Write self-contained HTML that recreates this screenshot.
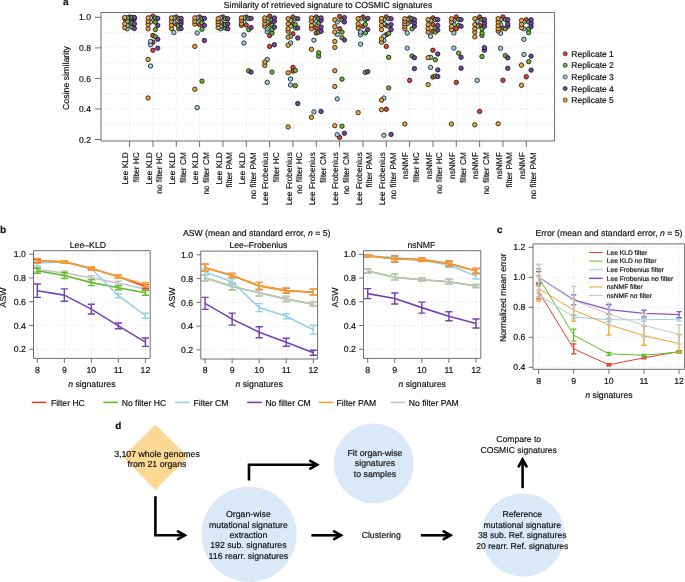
<!DOCTYPE html>
<html><head><meta charset="utf-8"><style>
html,body{margin:0;padding:0;background:#fff;}
body{width:685px;height:582px;overflow:hidden;}
svg{display:block;font-family:"Liberation Sans", sans-serif;fill:#1a1a1a;will-change:transform;}
text{fill:#111;stroke:#111;stroke-width:0.18px;text-rendering:geometricPrecision;}
</style></head><body>
<svg width="685" height="582" viewBox="0 0 685 582">
<line x1="101.0" y1="17.30" x2="554.6" y2="17.30" stroke="#d4d4d4" stroke-width="0.75" stroke-dasharray="1 2.2"/>
<line x1="101.0" y1="32.58" x2="554.6" y2="32.58" stroke="#d4d4d4" stroke-width="0.75" stroke-dasharray="1 2.2"/>
<line x1="101.0" y1="47.86" x2="554.6" y2="47.86" stroke="#d4d4d4" stroke-width="0.75" stroke-dasharray="1 2.2"/>
<line x1="101.0" y1="63.14" x2="554.6" y2="63.14" stroke="#d4d4d4" stroke-width="0.75" stroke-dasharray="1 2.2"/>
<line x1="101.0" y1="78.42" x2="554.6" y2="78.42" stroke="#d4d4d4" stroke-width="0.75" stroke-dasharray="1 2.2"/>
<line x1="101.0" y1="93.70" x2="554.6" y2="93.70" stroke="#d4d4d4" stroke-width="0.75" stroke-dasharray="1 2.2"/>
<line x1="101.0" y1="108.98" x2="554.6" y2="108.98" stroke="#d4d4d4" stroke-width="0.75" stroke-dasharray="1 2.2"/>
<line x1="101.0" y1="124.26" x2="554.6" y2="124.26" stroke="#d4d4d4" stroke-width="0.75" stroke-dasharray="1 2.2"/>
<line x1="101.0" y1="139.54" x2="554.6" y2="139.54" stroke="#d4d4d4" stroke-width="0.75" stroke-dasharray="1 2.2"/>
<line x1="129.60" y1="12.5" x2="129.60" y2="141.0" stroke="#d4d4d4" stroke-width="0.75" stroke-dasharray="1 2.2"/>
<line x1="152.94" y1="12.5" x2="152.94" y2="141.0" stroke="#d4d4d4" stroke-width="0.75" stroke-dasharray="1 2.2"/>
<line x1="176.27" y1="12.5" x2="176.27" y2="141.0" stroke="#d4d4d4" stroke-width="0.75" stroke-dasharray="1 2.2"/>
<line x1="199.60" y1="12.5" x2="199.60" y2="141.0" stroke="#d4d4d4" stroke-width="0.75" stroke-dasharray="1 2.2"/>
<line x1="222.94" y1="12.5" x2="222.94" y2="141.0" stroke="#d4d4d4" stroke-width="0.75" stroke-dasharray="1 2.2"/>
<line x1="246.28" y1="12.5" x2="246.28" y2="141.0" stroke="#d4d4d4" stroke-width="0.75" stroke-dasharray="1 2.2"/>
<line x1="269.61" y1="12.5" x2="269.61" y2="141.0" stroke="#d4d4d4" stroke-width="0.75" stroke-dasharray="1 2.2"/>
<line x1="292.94" y1="12.5" x2="292.94" y2="141.0" stroke="#d4d4d4" stroke-width="0.75" stroke-dasharray="1 2.2"/>
<line x1="316.28" y1="12.5" x2="316.28" y2="141.0" stroke="#d4d4d4" stroke-width="0.75" stroke-dasharray="1 2.2"/>
<line x1="339.62" y1="12.5" x2="339.62" y2="141.0" stroke="#d4d4d4" stroke-width="0.75" stroke-dasharray="1 2.2"/>
<line x1="362.95" y1="12.5" x2="362.95" y2="141.0" stroke="#d4d4d4" stroke-width="0.75" stroke-dasharray="1 2.2"/>
<line x1="386.28" y1="12.5" x2="386.28" y2="141.0" stroke="#d4d4d4" stroke-width="0.75" stroke-dasharray="1 2.2"/>
<line x1="409.62" y1="12.5" x2="409.62" y2="141.0" stroke="#d4d4d4" stroke-width="0.75" stroke-dasharray="1 2.2"/>
<line x1="432.96" y1="12.5" x2="432.96" y2="141.0" stroke="#d4d4d4" stroke-width="0.75" stroke-dasharray="1 2.2"/>
<line x1="456.29" y1="12.5" x2="456.29" y2="141.0" stroke="#d4d4d4" stroke-width="0.75" stroke-dasharray="1 2.2"/>
<line x1="479.62" y1="12.5" x2="479.62" y2="141.0" stroke="#d4d4d4" stroke-width="0.75" stroke-dasharray="1 2.2"/>
<line x1="502.96" y1="12.5" x2="502.96" y2="141.0" stroke="#d4d4d4" stroke-width="0.75" stroke-dasharray="1 2.2"/>
<line x1="526.29" y1="12.5" x2="526.29" y2="141.0" stroke="#d4d4d4" stroke-width="0.75" stroke-dasharray="1 2.2"/>
<circle cx="129.60" cy="22.00" r="2.2" fill="#E5412B" stroke="#111" stroke-width="0.8"/>
<circle cx="129.60" cy="17.00" r="2.2" fill="#E5412B" stroke="#111" stroke-width="0.8"/>
<circle cx="132.00" cy="27.10" r="2.2" fill="#62BD2A" stroke="#111" stroke-width="0.8"/>
<circle cx="132.00" cy="22.90" r="2.2" fill="#62BD2A" stroke="#111" stroke-width="0.8"/>
<circle cx="132.00" cy="18.70" r="2.2" fill="#62BD2A" stroke="#111" stroke-width="0.8"/>
<circle cx="132.00" cy="17.50" r="2.2" fill="#62BD2A" stroke="#111" stroke-width="0.8"/>
<circle cx="127.20" cy="28.80" r="2.2" fill="#96D1E8" stroke="#111" stroke-width="0.8"/>
<circle cx="127.20" cy="25.40" r="2.2" fill="#96D1E8" stroke="#111" stroke-width="0.8"/>
<circle cx="127.20" cy="21.20" r="2.2" fill="#96D1E8" stroke="#111" stroke-width="0.8"/>
<circle cx="127.20" cy="17.90" r="2.2" fill="#96D1E8" stroke="#111" stroke-width="0.8"/>
<circle cx="134.40" cy="28.50" r="2.2" fill="#7442B2" stroke="#111" stroke-width="0.8"/>
<circle cx="134.40" cy="23.80" r="2.2" fill="#7442B2" stroke="#111" stroke-width="0.8"/>
<circle cx="134.40" cy="18.70" r="2.2" fill="#7442B2" stroke="#111" stroke-width="0.8"/>
<circle cx="134.40" cy="17.50" r="2.2" fill="#7442B2" stroke="#111" stroke-width="0.8"/>
<circle cx="124.80" cy="27.60" r="2.2" fill="#F4A12E" stroke="#111" stroke-width="0.8"/>
<circle cx="124.80" cy="23.80" r="2.2" fill="#F4A12E" stroke="#111" stroke-width="0.8"/>
<circle cx="124.80" cy="18.70" r="2.2" fill="#F4A12E" stroke="#111" stroke-width="0.8"/>
<circle cx="124.80" cy="17.50" r="2.2" fill="#F4A12E" stroke="#111" stroke-width="0.8"/>
<circle cx="152.94" cy="50.30" r="2.2" fill="#E5412B" stroke="#111" stroke-width="0.8"/>
<circle cx="152.94" cy="42.20" r="2.2" fill="#E5412B" stroke="#111" stroke-width="0.8"/>
<circle cx="152.94" cy="35.50" r="2.2" fill="#E5412B" stroke="#111" stroke-width="0.8"/>
<circle cx="152.94" cy="16.20" r="2.2" fill="#E5412B" stroke="#111" stroke-width="0.8"/>
<circle cx="155.34" cy="36.80" r="2.2" fill="#62BD2A" stroke="#111" stroke-width="0.8"/>
<circle cx="155.34" cy="29.60" r="2.2" fill="#62BD2A" stroke="#111" stroke-width="0.8"/>
<circle cx="155.34" cy="22.00" r="2.2" fill="#62BD2A" stroke="#111" stroke-width="0.8"/>
<circle cx="155.34" cy="17.90" r="2.2" fill="#62BD2A" stroke="#111" stroke-width="0.8"/>
<circle cx="150.53" cy="66.00" r="2.2" fill="#96D1E8" stroke="#111" stroke-width="0.8"/>
<circle cx="150.53" cy="44.70" r="2.2" fill="#96D1E8" stroke="#111" stroke-width="0.8"/>
<circle cx="150.53" cy="41.40" r="2.2" fill="#96D1E8" stroke="#111" stroke-width="0.8"/>
<circle cx="150.53" cy="22.00" r="2.2" fill="#96D1E8" stroke="#111" stroke-width="0.8"/>
<circle cx="150.53" cy="17.90" r="2.2" fill="#96D1E8" stroke="#111" stroke-width="0.8"/>
<circle cx="157.74" cy="48.10" r="2.2" fill="#7442B2" stroke="#111" stroke-width="0.8"/>
<circle cx="157.74" cy="39.20" r="2.2" fill="#7442B2" stroke="#111" stroke-width="0.8"/>
<circle cx="157.74" cy="25.40" r="2.2" fill="#7442B2" stroke="#111" stroke-width="0.8"/>
<circle cx="157.74" cy="18.40" r="2.2" fill="#7442B2" stroke="#111" stroke-width="0.8"/>
<circle cx="148.13" cy="98.00" r="2.2" fill="#F4A12E" stroke="#111" stroke-width="0.8"/>
<circle cx="148.13" cy="59.50" r="2.2" fill="#F4A12E" stroke="#111" stroke-width="0.8"/>
<circle cx="148.13" cy="28.80" r="2.2" fill="#F4A12E" stroke="#111" stroke-width="0.8"/>
<circle cx="148.13" cy="24.60" r="2.2" fill="#F4A12E" stroke="#111" stroke-width="0.8"/>
<circle cx="148.13" cy="21.20" r="2.2" fill="#F4A12E" stroke="#111" stroke-width="0.8"/>
<circle cx="148.13" cy="17.90" r="2.2" fill="#F4A12E" stroke="#111" stroke-width="0.8"/>
<circle cx="176.27" cy="24.10" r="2.2" fill="#E5412B" stroke="#111" stroke-width="0.8"/>
<circle cx="176.27" cy="17.00" r="2.2" fill="#E5412B" stroke="#111" stroke-width="0.8"/>
<circle cx="178.67" cy="28.80" r="2.2" fill="#62BD2A" stroke="#111" stroke-width="0.8"/>
<circle cx="178.67" cy="25.40" r="2.2" fill="#62BD2A" stroke="#111" stroke-width="0.8"/>
<circle cx="178.67" cy="18.70" r="2.2" fill="#62BD2A" stroke="#111" stroke-width="0.8"/>
<circle cx="173.87" cy="32.50" r="2.2" fill="#96D1E8" stroke="#111" stroke-width="0.8"/>
<circle cx="173.87" cy="22.00" r="2.2" fill="#96D1E8" stroke="#111" stroke-width="0.8"/>
<circle cx="173.87" cy="17.90" r="2.2" fill="#96D1E8" stroke="#111" stroke-width="0.8"/>
<circle cx="181.07" cy="28.50" r="2.2" fill="#7442B2" stroke="#111" stroke-width="0.8"/>
<circle cx="181.07" cy="23.80" r="2.2" fill="#7442B2" stroke="#111" stroke-width="0.8"/>
<circle cx="181.07" cy="21.10" r="2.2" fill="#7442B2" stroke="#111" stroke-width="0.8"/>
<circle cx="181.07" cy="18.40" r="2.2" fill="#7442B2" stroke="#111" stroke-width="0.8"/>
<circle cx="171.47" cy="28.50" r="2.2" fill="#F4A12E" stroke="#111" stroke-width="0.8"/>
<circle cx="171.47" cy="25.10" r="2.2" fill="#F4A12E" stroke="#111" stroke-width="0.8"/>
<circle cx="171.47" cy="21.20" r="2.2" fill="#F4A12E" stroke="#111" stroke-width="0.8"/>
<circle cx="171.47" cy="17.90" r="2.2" fill="#F4A12E" stroke="#111" stroke-width="0.8"/>
<circle cx="199.60" cy="24.60" r="2.2" fill="#E5412B" stroke="#111" stroke-width="0.8"/>
<circle cx="199.60" cy="17.00" r="2.2" fill="#E5412B" stroke="#111" stroke-width="0.8"/>
<circle cx="202.00" cy="81.20" r="2.2" fill="#62BD2A" stroke="#111" stroke-width="0.8"/>
<circle cx="202.00" cy="29.30" r="2.2" fill="#62BD2A" stroke="#111" stroke-width="0.8"/>
<circle cx="202.00" cy="22.90" r="2.2" fill="#62BD2A" stroke="#111" stroke-width="0.8"/>
<circle cx="202.00" cy="18.70" r="2.2" fill="#62BD2A" stroke="#111" stroke-width="0.8"/>
<circle cx="197.20" cy="107.60" r="2.2" fill="#96D1E8" stroke="#111" stroke-width="0.8"/>
<circle cx="197.20" cy="33.00" r="2.2" fill="#96D1E8" stroke="#111" stroke-width="0.8"/>
<circle cx="197.20" cy="22.00" r="2.2" fill="#96D1E8" stroke="#111" stroke-width="0.8"/>
<circle cx="197.20" cy="17.90" r="2.2" fill="#96D1E8" stroke="#111" stroke-width="0.8"/>
<circle cx="204.41" cy="40.50" r="2.2" fill="#7442B2" stroke="#111" stroke-width="0.8"/>
<circle cx="204.41" cy="25.40" r="2.2" fill="#7442B2" stroke="#111" stroke-width="0.8"/>
<circle cx="204.41" cy="18.40" r="2.2" fill="#7442B2" stroke="#111" stroke-width="0.8"/>
<circle cx="194.80" cy="89.30" r="2.2" fill="#F4A12E" stroke="#111" stroke-width="0.8"/>
<circle cx="194.80" cy="46.40" r="2.2" fill="#F4A12E" stroke="#111" stroke-width="0.8"/>
<circle cx="194.80" cy="24.10" r="2.2" fill="#F4A12E" stroke="#111" stroke-width="0.8"/>
<circle cx="194.80" cy="21.20" r="2.2" fill="#F4A12E" stroke="#111" stroke-width="0.8"/>
<circle cx="194.80" cy="17.90" r="2.2" fill="#F4A12E" stroke="#111" stroke-width="0.8"/>
<circle cx="222.94" cy="23.80" r="2.2" fill="#E5412B" stroke="#111" stroke-width="0.8"/>
<circle cx="222.94" cy="17.00" r="2.2" fill="#E5412B" stroke="#111" stroke-width="0.8"/>
<circle cx="225.34" cy="28.00" r="2.2" fill="#62BD2A" stroke="#111" stroke-width="0.8"/>
<circle cx="225.34" cy="24.60" r="2.2" fill="#62BD2A" stroke="#111" stroke-width="0.8"/>
<circle cx="225.34" cy="18.70" r="2.2" fill="#62BD2A" stroke="#111" stroke-width="0.8"/>
<circle cx="220.54" cy="28.80" r="2.2" fill="#96D1E8" stroke="#111" stroke-width="0.8"/>
<circle cx="220.54" cy="26.30" r="2.2" fill="#96D1E8" stroke="#111" stroke-width="0.8"/>
<circle cx="220.54" cy="22.00" r="2.2" fill="#96D1E8" stroke="#111" stroke-width="0.8"/>
<circle cx="220.54" cy="17.90" r="2.2" fill="#96D1E8" stroke="#111" stroke-width="0.8"/>
<circle cx="227.74" cy="28.80" r="2.2" fill="#7442B2" stroke="#111" stroke-width="0.8"/>
<circle cx="227.74" cy="23.80" r="2.2" fill="#7442B2" stroke="#111" stroke-width="0.8"/>
<circle cx="227.74" cy="18.70" r="2.2" fill="#7442B2" stroke="#111" stroke-width="0.8"/>
<circle cx="218.14" cy="27.60" r="2.2" fill="#F4A12E" stroke="#111" stroke-width="0.8"/>
<circle cx="218.14" cy="24.10" r="2.2" fill="#F4A12E" stroke="#111" stroke-width="0.8"/>
<circle cx="218.14" cy="21.40" r="2.2" fill="#F4A12E" stroke="#111" stroke-width="0.8"/>
<circle cx="218.14" cy="18.70" r="2.2" fill="#F4A12E" stroke="#111" stroke-width="0.8"/>
<circle cx="246.28" cy="25.10" r="2.2" fill="#E5412B" stroke="#111" stroke-width="0.8"/>
<circle cx="246.28" cy="17.00" r="2.2" fill="#E5412B" stroke="#111" stroke-width="0.8"/>
<circle cx="248.68" cy="70.80" r="2.2" fill="#62BD2A" stroke="#111" stroke-width="0.8"/>
<circle cx="248.68" cy="29.60" r="2.2" fill="#62BD2A" stroke="#111" stroke-width="0.8"/>
<circle cx="248.68" cy="18.70" r="2.2" fill="#62BD2A" stroke="#111" stroke-width="0.8"/>
<circle cx="243.88" cy="43.00" r="2.2" fill="#96D1E8" stroke="#111" stroke-width="0.8"/>
<circle cx="243.88" cy="35.00" r="2.2" fill="#96D1E8" stroke="#111" stroke-width="0.8"/>
<circle cx="243.88" cy="22.00" r="2.2" fill="#96D1E8" stroke="#111" stroke-width="0.8"/>
<circle cx="243.88" cy="17.90" r="2.2" fill="#96D1E8" stroke="#111" stroke-width="0.8"/>
<circle cx="251.08" cy="72.10" r="2.2" fill="#7442B2" stroke="#111" stroke-width="0.8"/>
<circle cx="251.08" cy="27.60" r="2.2" fill="#7442B2" stroke="#111" stroke-width="0.8"/>
<circle cx="251.08" cy="18.40" r="2.2" fill="#7442B2" stroke="#111" stroke-width="0.8"/>
<circle cx="241.47" cy="25.40" r="2.2" fill="#F4A12E" stroke="#111" stroke-width="0.8"/>
<circle cx="241.47" cy="23.80" r="2.2" fill="#F4A12E" stroke="#111" stroke-width="0.8"/>
<circle cx="241.47" cy="20.40" r="2.2" fill="#F4A12E" stroke="#111" stroke-width="0.8"/>
<circle cx="241.47" cy="17.90" r="2.2" fill="#F4A12E" stroke="#111" stroke-width="0.8"/>
<circle cx="269.61" cy="46.40" r="2.2" fill="#E5412B" stroke="#111" stroke-width="0.8"/>
<circle cx="269.61" cy="35.50" r="2.2" fill="#E5412B" stroke="#111" stroke-width="0.8"/>
<circle cx="269.61" cy="23.80" r="2.2" fill="#E5412B" stroke="#111" stroke-width="0.8"/>
<circle cx="269.61" cy="16.20" r="2.2" fill="#E5412B" stroke="#111" stroke-width="0.8"/>
<circle cx="272.01" cy="72.10" r="2.2" fill="#62BD2A" stroke="#111" stroke-width="0.8"/>
<circle cx="272.01" cy="33.00" r="2.2" fill="#62BD2A" stroke="#111" stroke-width="0.8"/>
<circle cx="272.01" cy="29.60" r="2.2" fill="#62BD2A" stroke="#111" stroke-width="0.8"/>
<circle cx="272.01" cy="25.40" r="2.2" fill="#62BD2A" stroke="#111" stroke-width="0.8"/>
<circle cx="272.01" cy="19.60" r="2.2" fill="#62BD2A" stroke="#111" stroke-width="0.8"/>
<circle cx="267.21" cy="82.40" r="2.2" fill="#96D1E8" stroke="#111" stroke-width="0.8"/>
<circle cx="267.21" cy="59.50" r="2.2" fill="#96D1E8" stroke="#111" stroke-width="0.8"/>
<circle cx="267.21" cy="31.80" r="2.2" fill="#96D1E8" stroke="#111" stroke-width="0.8"/>
<circle cx="267.21" cy="28.80" r="2.2" fill="#96D1E8" stroke="#111" stroke-width="0.8"/>
<circle cx="267.21" cy="22.00" r="2.2" fill="#96D1E8" stroke="#111" stroke-width="0.8"/>
<circle cx="267.21" cy="18.40" r="2.2" fill="#96D1E8" stroke="#111" stroke-width="0.8"/>
<circle cx="274.41" cy="44.70" r="2.2" fill="#7442B2" stroke="#111" stroke-width="0.8"/>
<circle cx="274.41" cy="27.10" r="2.2" fill="#7442B2" stroke="#111" stroke-width="0.8"/>
<circle cx="274.41" cy="21.20" r="2.2" fill="#7442B2" stroke="#111" stroke-width="0.8"/>
<circle cx="274.41" cy="17.90" r="2.2" fill="#7442B2" stroke="#111" stroke-width="0.8"/>
<circle cx="264.81" cy="65.40" r="2.2" fill="#F4A12E" stroke="#111" stroke-width="0.8"/>
<circle cx="264.81" cy="62.00" r="2.2" fill="#F4A12E" stroke="#111" stroke-width="0.8"/>
<circle cx="264.81" cy="26.30" r="2.2" fill="#F4A12E" stroke="#111" stroke-width="0.8"/>
<circle cx="264.81" cy="23.80" r="2.2" fill="#F4A12E" stroke="#111" stroke-width="0.8"/>
<circle cx="264.81" cy="20.40" r="2.2" fill="#F4A12E" stroke="#111" stroke-width="0.8"/>
<circle cx="264.81" cy="17.90" r="2.2" fill="#F4A12E" stroke="#111" stroke-width="0.8"/>
<circle cx="292.94" cy="71.10" r="2.2" fill="#E5412B" stroke="#111" stroke-width="0.8"/>
<circle cx="292.94" cy="67.40" r="2.2" fill="#E5412B" stroke="#111" stroke-width="0.8"/>
<circle cx="292.94" cy="33.80" r="2.2" fill="#E5412B" stroke="#111" stroke-width="0.8"/>
<circle cx="292.94" cy="23.80" r="2.2" fill="#E5412B" stroke="#111" stroke-width="0.8"/>
<circle cx="292.94" cy="17.00" r="2.2" fill="#E5412B" stroke="#111" stroke-width="0.8"/>
<circle cx="295.34" cy="85.70" r="2.2" fill="#62BD2A" stroke="#111" stroke-width="0.8"/>
<circle cx="295.34" cy="70.40" r="2.2" fill="#62BD2A" stroke="#111" stroke-width="0.8"/>
<circle cx="295.34" cy="28.00" r="2.2" fill="#62BD2A" stroke="#111" stroke-width="0.8"/>
<circle cx="295.34" cy="24.60" r="2.2" fill="#62BD2A" stroke="#111" stroke-width="0.8"/>
<circle cx="295.34" cy="18.70" r="2.2" fill="#62BD2A" stroke="#111" stroke-width="0.8"/>
<circle cx="290.55" cy="85.00" r="2.2" fill="#96D1E8" stroke="#111" stroke-width="0.8"/>
<circle cx="290.55" cy="79.00" r="2.2" fill="#96D1E8" stroke="#111" stroke-width="0.8"/>
<circle cx="290.55" cy="43.00" r="2.2" fill="#96D1E8" stroke="#111" stroke-width="0.8"/>
<circle cx="290.55" cy="36.30" r="2.2" fill="#96D1E8" stroke="#111" stroke-width="0.8"/>
<circle cx="290.55" cy="26.30" r="2.2" fill="#96D1E8" stroke="#111" stroke-width="0.8"/>
<circle cx="290.55" cy="20.40" r="2.2" fill="#96D1E8" stroke="#111" stroke-width="0.8"/>
<circle cx="297.75" cy="103.50" r="2.2" fill="#7442B2" stroke="#111" stroke-width="0.8"/>
<circle cx="297.75" cy="38.00" r="2.2" fill="#7442B2" stroke="#111" stroke-width="0.8"/>
<circle cx="297.75" cy="28.00" r="2.2" fill="#7442B2" stroke="#111" stroke-width="0.8"/>
<circle cx="297.75" cy="18.70" r="2.2" fill="#7442B2" stroke="#111" stroke-width="0.8"/>
<circle cx="288.14" cy="126.90" r="2.2" fill="#F4A12E" stroke="#111" stroke-width="0.8"/>
<circle cx="288.14" cy="72.80" r="2.2" fill="#F4A12E" stroke="#111" stroke-width="0.8"/>
<circle cx="288.14" cy="45.20" r="2.2" fill="#F4A12E" stroke="#111" stroke-width="0.8"/>
<circle cx="288.14" cy="37.20" r="2.2" fill="#F4A12E" stroke="#111" stroke-width="0.8"/>
<circle cx="288.14" cy="31.30" r="2.2" fill="#F4A12E" stroke="#111" stroke-width="0.8"/>
<circle cx="288.14" cy="28.80" r="2.2" fill="#F4A12E" stroke="#111" stroke-width="0.8"/>
<circle cx="288.14" cy="23.80" r="2.2" fill="#F4A12E" stroke="#111" stroke-width="0.8"/>
<circle cx="288.14" cy="18.70" r="2.2" fill="#F4A12E" stroke="#111" stroke-width="0.8"/>
<circle cx="316.28" cy="33.00" r="2.2" fill="#E5412B" stroke="#111" stroke-width="0.8"/>
<circle cx="316.28" cy="28.00" r="2.2" fill="#E5412B" stroke="#111" stroke-width="0.8"/>
<circle cx="316.28" cy="17.00" r="2.2" fill="#E5412B" stroke="#111" stroke-width="0.8"/>
<circle cx="318.68" cy="56.20" r="2.2" fill="#62BD2A" stroke="#111" stroke-width="0.8"/>
<circle cx="318.68" cy="52.80" r="2.2" fill="#62BD2A" stroke="#111" stroke-width="0.8"/>
<circle cx="318.68" cy="32.10" r="2.2" fill="#62BD2A" stroke="#111" stroke-width="0.8"/>
<circle cx="318.68" cy="22.90" r="2.2" fill="#62BD2A" stroke="#111" stroke-width="0.8"/>
<circle cx="318.68" cy="18.70" r="2.2" fill="#62BD2A" stroke="#111" stroke-width="0.8"/>
<circle cx="313.88" cy="111.90" r="2.2" fill="#96D1E8" stroke="#111" stroke-width="0.8"/>
<circle cx="313.88" cy="40.20" r="2.2" fill="#96D1E8" stroke="#111" stroke-width="0.8"/>
<circle cx="313.88" cy="23.80" r="2.2" fill="#96D1E8" stroke="#111" stroke-width="0.8"/>
<circle cx="313.88" cy="18.70" r="2.2" fill="#96D1E8" stroke="#111" stroke-width="0.8"/>
<circle cx="321.08" cy="111.40" r="2.2" fill="#7442B2" stroke="#111" stroke-width="0.8"/>
<circle cx="321.08" cy="31.30" r="2.2" fill="#7442B2" stroke="#111" stroke-width="0.8"/>
<circle cx="321.08" cy="27.10" r="2.2" fill="#7442B2" stroke="#111" stroke-width="0.8"/>
<circle cx="321.08" cy="20.40" r="2.2" fill="#7442B2" stroke="#111" stroke-width="0.8"/>
<circle cx="321.08" cy="17.90" r="2.2" fill="#7442B2" stroke="#111" stroke-width="0.8"/>
<circle cx="311.48" cy="117.30" r="2.2" fill="#F4A12E" stroke="#111" stroke-width="0.8"/>
<circle cx="311.48" cy="49.30" r="2.2" fill="#F4A12E" stroke="#111" stroke-width="0.8"/>
<circle cx="311.48" cy="28.80" r="2.2" fill="#F4A12E" stroke="#111" stroke-width="0.8"/>
<circle cx="311.48" cy="25.40" r="2.2" fill="#F4A12E" stroke="#111" stroke-width="0.8"/>
<circle cx="311.48" cy="21.20" r="2.2" fill="#F4A12E" stroke="#111" stroke-width="0.8"/>
<circle cx="311.48" cy="17.90" r="2.2" fill="#F4A12E" stroke="#111" stroke-width="0.8"/>
<circle cx="339.62" cy="137.40" r="2.2" fill="#E5412B" stroke="#111" stroke-width="0.8"/>
<circle cx="339.62" cy="28.80" r="2.2" fill="#E5412B" stroke="#111" stroke-width="0.8"/>
<circle cx="339.62" cy="16.50" r="2.2" fill="#E5412B" stroke="#111" stroke-width="0.8"/>
<circle cx="342.01" cy="126.20" r="2.2" fill="#62BD2A" stroke="#111" stroke-width="0.8"/>
<circle cx="342.01" cy="79.20" r="2.2" fill="#62BD2A" stroke="#111" stroke-width="0.8"/>
<circle cx="342.01" cy="37.70" r="2.2" fill="#62BD2A" stroke="#111" stroke-width="0.8"/>
<circle cx="342.01" cy="32.10" r="2.2" fill="#62BD2A" stroke="#111" stroke-width="0.8"/>
<circle cx="342.01" cy="19.80" r="2.2" fill="#62BD2A" stroke="#111" stroke-width="0.8"/>
<circle cx="337.22" cy="134.70" r="2.2" fill="#96D1E8" stroke="#111" stroke-width="0.8"/>
<circle cx="337.22" cy="98.90" r="2.2" fill="#96D1E8" stroke="#111" stroke-width="0.8"/>
<circle cx="337.22" cy="34.40" r="2.2" fill="#96D1E8" stroke="#111" stroke-width="0.8"/>
<circle cx="337.22" cy="22.00" r="2.2" fill="#96D1E8" stroke="#111" stroke-width="0.8"/>
<circle cx="344.42" cy="133.30" r="2.2" fill="#7442B2" stroke="#111" stroke-width="0.8"/>
<circle cx="344.42" cy="40.00" r="2.2" fill="#7442B2" stroke="#111" stroke-width="0.8"/>
<circle cx="344.42" cy="22.00" r="2.2" fill="#7442B2" stroke="#111" stroke-width="0.8"/>
<circle cx="344.42" cy="17.60" r="2.2" fill="#7442B2" stroke="#111" stroke-width="0.8"/>
<circle cx="334.81" cy="125.70" r="2.2" fill="#F4A12E" stroke="#111" stroke-width="0.8"/>
<circle cx="334.81" cy="86.50" r="2.2" fill="#F4A12E" stroke="#111" stroke-width="0.8"/>
<circle cx="334.81" cy="70.70" r="2.2" fill="#F4A12E" stroke="#111" stroke-width="0.8"/>
<circle cx="334.81" cy="47.40" r="2.2" fill="#F4A12E" stroke="#111" stroke-width="0.8"/>
<circle cx="334.81" cy="41.50" r="2.2" fill="#F4A12E" stroke="#111" stroke-width="0.8"/>
<circle cx="334.81" cy="32.10" r="2.2" fill="#F4A12E" stroke="#111" stroke-width="0.8"/>
<circle cx="334.81" cy="26.60" r="2.2" fill="#F4A12E" stroke="#111" stroke-width="0.8"/>
<circle cx="334.81" cy="19.80" r="2.2" fill="#F4A12E" stroke="#111" stroke-width="0.8"/>
<circle cx="362.95" cy="26.30" r="2.2" fill="#E5412B" stroke="#111" stroke-width="0.8"/>
<circle cx="362.95" cy="17.00" r="2.2" fill="#E5412B" stroke="#111" stroke-width="0.8"/>
<circle cx="365.35" cy="72.40" r="2.2" fill="#62BD2A" stroke="#111" stroke-width="0.8"/>
<circle cx="365.35" cy="33.00" r="2.2" fill="#62BD2A" stroke="#111" stroke-width="0.8"/>
<circle cx="365.35" cy="24.60" r="2.2" fill="#62BD2A" stroke="#111" stroke-width="0.8"/>
<circle cx="365.35" cy="19.60" r="2.2" fill="#62BD2A" stroke="#111" stroke-width="0.8"/>
<circle cx="360.55" cy="44.20" r="2.2" fill="#96D1E8" stroke="#111" stroke-width="0.8"/>
<circle cx="360.55" cy="34.70" r="2.2" fill="#96D1E8" stroke="#111" stroke-width="0.8"/>
<circle cx="360.55" cy="32.10" r="2.2" fill="#96D1E8" stroke="#111" stroke-width="0.8"/>
<circle cx="360.55" cy="18.70" r="2.2" fill="#96D1E8" stroke="#111" stroke-width="0.8"/>
<circle cx="367.75" cy="71.60" r="2.2" fill="#7442B2" stroke="#111" stroke-width="0.8"/>
<circle cx="367.75" cy="29.60" r="2.2" fill="#7442B2" stroke="#111" stroke-width="0.8"/>
<circle cx="367.75" cy="18.40" r="2.2" fill="#7442B2" stroke="#111" stroke-width="0.8"/>
<circle cx="358.15" cy="112.60" r="2.2" fill="#F4A12E" stroke="#111" stroke-width="0.8"/>
<circle cx="358.15" cy="28.00" r="2.2" fill="#F4A12E" stroke="#111" stroke-width="0.8"/>
<circle cx="358.15" cy="23.80" r="2.2" fill="#F4A12E" stroke="#111" stroke-width="0.8"/>
<circle cx="358.15" cy="18.70" r="2.2" fill="#F4A12E" stroke="#111" stroke-width="0.8"/>
<circle cx="386.28" cy="109.20" r="2.2" fill="#E5412B" stroke="#111" stroke-width="0.8"/>
<circle cx="386.28" cy="46.40" r="2.2" fill="#E5412B" stroke="#111" stroke-width="0.8"/>
<circle cx="386.28" cy="34.70" r="2.2" fill="#E5412B" stroke="#111" stroke-width="0.8"/>
<circle cx="386.28" cy="25.40" r="2.2" fill="#E5412B" stroke="#111" stroke-width="0.8"/>
<circle cx="386.28" cy="17.00" r="2.2" fill="#E5412B" stroke="#111" stroke-width="0.8"/>
<circle cx="388.68" cy="87.90" r="2.2" fill="#62BD2A" stroke="#111" stroke-width="0.8"/>
<circle cx="388.68" cy="57.30" r="2.2" fill="#62BD2A" stroke="#111" stroke-width="0.8"/>
<circle cx="388.68" cy="33.50" r="2.2" fill="#62BD2A" stroke="#111" stroke-width="0.8"/>
<circle cx="388.68" cy="26.30" r="2.2" fill="#62BD2A" stroke="#111" stroke-width="0.8"/>
<circle cx="388.68" cy="18.70" r="2.2" fill="#62BD2A" stroke="#111" stroke-width="0.8"/>
<circle cx="383.88" cy="135.30" r="2.2" fill="#96D1E8" stroke="#111" stroke-width="0.8"/>
<circle cx="383.88" cy="98.00" r="2.2" fill="#96D1E8" stroke="#111" stroke-width="0.8"/>
<circle cx="383.88" cy="40.50" r="2.2" fill="#96D1E8" stroke="#111" stroke-width="0.8"/>
<circle cx="383.88" cy="36.30" r="2.2" fill="#96D1E8" stroke="#111" stroke-width="0.8"/>
<circle cx="383.88" cy="23.80" r="2.2" fill="#96D1E8" stroke="#111" stroke-width="0.8"/>
<circle cx="383.88" cy="19.60" r="2.2" fill="#96D1E8" stroke="#111" stroke-width="0.8"/>
<circle cx="391.08" cy="134.40" r="2.2" fill="#7442B2" stroke="#111" stroke-width="0.8"/>
<circle cx="391.08" cy="29.60" r="2.2" fill="#7442B2" stroke="#111" stroke-width="0.8"/>
<circle cx="391.08" cy="24.60" r="2.2" fill="#7442B2" stroke="#111" stroke-width="0.8"/>
<circle cx="391.08" cy="18.70" r="2.2" fill="#7442B2" stroke="#111" stroke-width="0.8"/>
<circle cx="381.48" cy="109.70" r="2.2" fill="#F4A12E" stroke="#111" stroke-width="0.8"/>
<circle cx="381.48" cy="100.20" r="2.2" fill="#F4A12E" stroke="#111" stroke-width="0.8"/>
<circle cx="381.48" cy="42.20" r="2.2" fill="#F4A12E" stroke="#111" stroke-width="0.8"/>
<circle cx="381.48" cy="38.90" r="2.2" fill="#F4A12E" stroke="#111" stroke-width="0.8"/>
<circle cx="381.48" cy="29.60" r="2.2" fill="#F4A12E" stroke="#111" stroke-width="0.8"/>
<circle cx="381.48" cy="25.40" r="2.2" fill="#F4A12E" stroke="#111" stroke-width="0.8"/>
<circle cx="381.48" cy="21.20" r="2.2" fill="#F4A12E" stroke="#111" stroke-width="0.8"/>
<circle cx="381.48" cy="18.40" r="2.2" fill="#F4A12E" stroke="#111" stroke-width="0.8"/>
<circle cx="409.62" cy="80.40" r="2.2" fill="#E5412B" stroke="#111" stroke-width="0.8"/>
<circle cx="409.62" cy="22.00" r="2.2" fill="#E5412B" stroke="#111" stroke-width="0.8"/>
<circle cx="409.62" cy="17.90" r="2.2" fill="#E5412B" stroke="#111" stroke-width="0.8"/>
<circle cx="412.02" cy="56.00" r="2.2" fill="#62BD2A" stroke="#111" stroke-width="0.8"/>
<circle cx="412.02" cy="28.80" r="2.2" fill="#62BD2A" stroke="#111" stroke-width="0.8"/>
<circle cx="412.02" cy="18.70" r="2.2" fill="#62BD2A" stroke="#111" stroke-width="0.8"/>
<circle cx="407.22" cy="48.10" r="2.2" fill="#96D1E8" stroke="#111" stroke-width="0.8"/>
<circle cx="407.22" cy="33.00" r="2.2" fill="#96D1E8" stroke="#111" stroke-width="0.8"/>
<circle cx="407.22" cy="23.80" r="2.2" fill="#96D1E8" stroke="#111" stroke-width="0.8"/>
<circle cx="407.22" cy="19.60" r="2.2" fill="#96D1E8" stroke="#111" stroke-width="0.8"/>
<circle cx="414.42" cy="68.60" r="2.2" fill="#7442B2" stroke="#111" stroke-width="0.8"/>
<circle cx="414.42" cy="57.70" r="2.2" fill="#7442B2" stroke="#111" stroke-width="0.8"/>
<circle cx="414.42" cy="26.30" r="2.2" fill="#7442B2" stroke="#111" stroke-width="0.8"/>
<circle cx="414.42" cy="22.90" r="2.2" fill="#7442B2" stroke="#111" stroke-width="0.8"/>
<circle cx="414.42" cy="19.60" r="2.2" fill="#7442B2" stroke="#111" stroke-width="0.8"/>
<circle cx="404.82" cy="124.00" r="2.2" fill="#F4A12E" stroke="#111" stroke-width="0.8"/>
<circle cx="404.82" cy="28.80" r="2.2" fill="#F4A12E" stroke="#111" stroke-width="0.8"/>
<circle cx="404.82" cy="26.30" r="2.2" fill="#F4A12E" stroke="#111" stroke-width="0.8"/>
<circle cx="404.82" cy="23.80" r="2.2" fill="#F4A12E" stroke="#111" stroke-width="0.8"/>
<circle cx="404.82" cy="21.20" r="2.2" fill="#F4A12E" stroke="#111" stroke-width="0.8"/>
<circle cx="404.82" cy="18.70" r="2.2" fill="#F4A12E" stroke="#111" stroke-width="0.8"/>
<circle cx="432.96" cy="77.00" r="2.2" fill="#E5412B" stroke="#111" stroke-width="0.8"/>
<circle cx="432.96" cy="50.30" r="2.2" fill="#E5412B" stroke="#111" stroke-width="0.8"/>
<circle cx="432.96" cy="31.30" r="2.2" fill="#E5412B" stroke="#111" stroke-width="0.8"/>
<circle cx="432.96" cy="24.60" r="2.2" fill="#E5412B" stroke="#111" stroke-width="0.8"/>
<circle cx="432.96" cy="17.90" r="2.2" fill="#E5412B" stroke="#111" stroke-width="0.8"/>
<circle cx="435.36" cy="76.00" r="2.2" fill="#62BD2A" stroke="#111" stroke-width="0.8"/>
<circle cx="435.36" cy="59.80" r="2.2" fill="#62BD2A" stroke="#111" stroke-width="0.8"/>
<circle cx="435.36" cy="32.10" r="2.2" fill="#62BD2A" stroke="#111" stroke-width="0.8"/>
<circle cx="435.36" cy="28.00" r="2.2" fill="#62BD2A" stroke="#111" stroke-width="0.8"/>
<circle cx="435.36" cy="19.60" r="2.2" fill="#62BD2A" stroke="#111" stroke-width="0.8"/>
<circle cx="430.56" cy="67.40" r="2.2" fill="#96D1E8" stroke="#111" stroke-width="0.8"/>
<circle cx="430.56" cy="57.30" r="2.2" fill="#96D1E8" stroke="#111" stroke-width="0.8"/>
<circle cx="430.56" cy="36.30" r="2.2" fill="#96D1E8" stroke="#111" stroke-width="0.8"/>
<circle cx="430.56" cy="20.40" r="2.2" fill="#96D1E8" stroke="#111" stroke-width="0.8"/>
<circle cx="437.76" cy="76.50" r="2.2" fill="#7442B2" stroke="#111" stroke-width="0.8"/>
<circle cx="437.76" cy="69.90" r="2.2" fill="#7442B2" stroke="#111" stroke-width="0.8"/>
<circle cx="437.76" cy="54.00" r="2.2" fill="#7442B2" stroke="#111" stroke-width="0.8"/>
<circle cx="437.76" cy="30.10" r="2.2" fill="#7442B2" stroke="#111" stroke-width="0.8"/>
<circle cx="437.76" cy="25.40" r="2.2" fill="#7442B2" stroke="#111" stroke-width="0.8"/>
<circle cx="437.76" cy="19.60" r="2.2" fill="#7442B2" stroke="#111" stroke-width="0.8"/>
<circle cx="428.16" cy="84.60" r="2.2" fill="#F4A12E" stroke="#111" stroke-width="0.8"/>
<circle cx="428.16" cy="57.70" r="2.2" fill="#F4A12E" stroke="#111" stroke-width="0.8"/>
<circle cx="428.16" cy="32.10" r="2.2" fill="#F4A12E" stroke="#111" stroke-width="0.8"/>
<circle cx="428.16" cy="28.50" r="2.2" fill="#F4A12E" stroke="#111" stroke-width="0.8"/>
<circle cx="428.16" cy="24.60" r="2.2" fill="#F4A12E" stroke="#111" stroke-width="0.8"/>
<circle cx="428.16" cy="19.60" r="2.2" fill="#F4A12E" stroke="#111" stroke-width="0.8"/>
<circle cx="456.29" cy="82.40" r="2.2" fill="#E5412B" stroke="#111" stroke-width="0.8"/>
<circle cx="456.29" cy="28.80" r="2.2" fill="#E5412B" stroke="#111" stroke-width="0.8"/>
<circle cx="456.29" cy="17.00" r="2.2" fill="#E5412B" stroke="#111" stroke-width="0.8"/>
<circle cx="458.69" cy="53.10" r="2.2" fill="#62BD2A" stroke="#111" stroke-width="0.8"/>
<circle cx="458.69" cy="25.40" r="2.2" fill="#62BD2A" stroke="#111" stroke-width="0.8"/>
<circle cx="458.69" cy="19.60" r="2.2" fill="#62BD2A" stroke="#111" stroke-width="0.8"/>
<circle cx="453.89" cy="48.10" r="2.2" fill="#96D1E8" stroke="#111" stroke-width="0.8"/>
<circle cx="453.89" cy="33.00" r="2.2" fill="#96D1E8" stroke="#111" stroke-width="0.8"/>
<circle cx="453.89" cy="24.60" r="2.2" fill="#96D1E8" stroke="#111" stroke-width="0.8"/>
<circle cx="453.89" cy="20.40" r="2.2" fill="#96D1E8" stroke="#111" stroke-width="0.8"/>
<circle cx="461.09" cy="68.20" r="2.2" fill="#7442B2" stroke="#111" stroke-width="0.8"/>
<circle cx="461.09" cy="57.30" r="2.2" fill="#7442B2" stroke="#111" stroke-width="0.8"/>
<circle cx="461.09" cy="26.30" r="2.2" fill="#7442B2" stroke="#111" stroke-width="0.8"/>
<circle cx="461.09" cy="19.60" r="2.2" fill="#7442B2" stroke="#111" stroke-width="0.8"/>
<circle cx="451.49" cy="124.00" r="2.2" fill="#F4A12E" stroke="#111" stroke-width="0.8"/>
<circle cx="451.49" cy="29.60" r="2.2" fill="#F4A12E" stroke="#111" stroke-width="0.8"/>
<circle cx="451.49" cy="26.30" r="2.2" fill="#F4A12E" stroke="#111" stroke-width="0.8"/>
<circle cx="451.49" cy="22.00" r="2.2" fill="#F4A12E" stroke="#111" stroke-width="0.8"/>
<circle cx="451.49" cy="18.70" r="2.2" fill="#F4A12E" stroke="#111" stroke-width="0.8"/>
<circle cx="479.62" cy="111.40" r="2.2" fill="#E5412B" stroke="#111" stroke-width="0.8"/>
<circle cx="479.62" cy="25.40" r="2.2" fill="#E5412B" stroke="#111" stroke-width="0.8"/>
<circle cx="479.62" cy="17.00" r="2.2" fill="#E5412B" stroke="#111" stroke-width="0.8"/>
<circle cx="482.02" cy="56.50" r="2.2" fill="#62BD2A" stroke="#111" stroke-width="0.8"/>
<circle cx="482.02" cy="35.50" r="2.2" fill="#62BD2A" stroke="#111" stroke-width="0.8"/>
<circle cx="482.02" cy="33.00" r="2.2" fill="#62BD2A" stroke="#111" stroke-width="0.8"/>
<circle cx="482.02" cy="28.80" r="2.2" fill="#62BD2A" stroke="#111" stroke-width="0.8"/>
<circle cx="482.02" cy="19.60" r="2.2" fill="#62BD2A" stroke="#111" stroke-width="0.8"/>
<circle cx="477.23" cy="80.40" r="2.2" fill="#96D1E8" stroke="#111" stroke-width="0.8"/>
<circle cx="477.23" cy="26.30" r="2.2" fill="#96D1E8" stroke="#111" stroke-width="0.8"/>
<circle cx="477.23" cy="21.20" r="2.2" fill="#96D1E8" stroke="#111" stroke-width="0.8"/>
<circle cx="484.43" cy="50.30" r="2.2" fill="#7442B2" stroke="#111" stroke-width="0.8"/>
<circle cx="484.43" cy="47.60" r="2.2" fill="#7442B2" stroke="#111" stroke-width="0.8"/>
<circle cx="484.43" cy="26.30" r="2.2" fill="#7442B2" stroke="#111" stroke-width="0.8"/>
<circle cx="484.43" cy="22.90" r="2.2" fill="#7442B2" stroke="#111" stroke-width="0.8"/>
<circle cx="484.43" cy="19.60" r="2.2" fill="#7442B2" stroke="#111" stroke-width="0.8"/>
<circle cx="474.82" cy="124.80" r="2.2" fill="#F4A12E" stroke="#111" stroke-width="0.8"/>
<circle cx="474.82" cy="36.80" r="2.2" fill="#F4A12E" stroke="#111" stroke-width="0.8"/>
<circle cx="474.82" cy="32.10" r="2.2" fill="#F4A12E" stroke="#111" stroke-width="0.8"/>
<circle cx="474.82" cy="28.80" r="2.2" fill="#F4A12E" stroke="#111" stroke-width="0.8"/>
<circle cx="474.82" cy="24.60" r="2.2" fill="#F4A12E" stroke="#111" stroke-width="0.8"/>
<circle cx="474.82" cy="18.70" r="2.2" fill="#F4A12E" stroke="#111" stroke-width="0.8"/>
<circle cx="502.96" cy="80.20" r="2.2" fill="#E5412B" stroke="#111" stroke-width="0.8"/>
<circle cx="502.96" cy="28.00" r="2.2" fill="#E5412B" stroke="#111" stroke-width="0.8"/>
<circle cx="502.96" cy="17.00" r="2.2" fill="#E5412B" stroke="#111" stroke-width="0.8"/>
<circle cx="505.36" cy="55.60" r="2.2" fill="#62BD2A" stroke="#111" stroke-width="0.8"/>
<circle cx="505.36" cy="28.80" r="2.2" fill="#62BD2A" stroke="#111" stroke-width="0.8"/>
<circle cx="505.36" cy="19.60" r="2.2" fill="#62BD2A" stroke="#111" stroke-width="0.8"/>
<circle cx="500.56" cy="48.20" r="2.2" fill="#96D1E8" stroke="#111" stroke-width="0.8"/>
<circle cx="500.56" cy="33.20" r="2.2" fill="#96D1E8" stroke="#111" stroke-width="0.8"/>
<circle cx="500.56" cy="24.60" r="2.2" fill="#96D1E8" stroke="#111" stroke-width="0.8"/>
<circle cx="500.56" cy="19.60" r="2.2" fill="#96D1E8" stroke="#111" stroke-width="0.8"/>
<circle cx="507.76" cy="68.30" r="2.2" fill="#7442B2" stroke="#111" stroke-width="0.8"/>
<circle cx="507.76" cy="57.80" r="2.2" fill="#7442B2" stroke="#111" stroke-width="0.8"/>
<circle cx="507.76" cy="26.30" r="2.2" fill="#7442B2" stroke="#111" stroke-width="0.8"/>
<circle cx="507.76" cy="23.80" r="2.2" fill="#7442B2" stroke="#111" stroke-width="0.8"/>
<circle cx="507.76" cy="19.60" r="2.2" fill="#7442B2" stroke="#111" stroke-width="0.8"/>
<circle cx="498.16" cy="123.70" r="2.2" fill="#F4A12E" stroke="#111" stroke-width="0.8"/>
<circle cx="498.16" cy="31.00" r="2.2" fill="#F4A12E" stroke="#111" stroke-width="0.8"/>
<circle cx="498.16" cy="28.80" r="2.2" fill="#F4A12E" stroke="#111" stroke-width="0.8"/>
<circle cx="498.16" cy="25.40" r="2.2" fill="#F4A12E" stroke="#111" stroke-width="0.8"/>
<circle cx="498.16" cy="22.00" r="2.2" fill="#F4A12E" stroke="#111" stroke-width="0.8"/>
<circle cx="498.16" cy="18.70" r="2.2" fill="#F4A12E" stroke="#111" stroke-width="0.8"/>
<circle cx="526.29" cy="76.80" r="2.2" fill="#E5412B" stroke="#111" stroke-width="0.8"/>
<circle cx="526.29" cy="19.80" r="2.2" fill="#E5412B" stroke="#111" stroke-width="0.8"/>
<circle cx="528.69" cy="61.60" r="2.2" fill="#62BD2A" stroke="#111" stroke-width="0.8"/>
<circle cx="528.69" cy="32.60" r="2.2" fill="#62BD2A" stroke="#111" stroke-width="0.8"/>
<circle cx="528.69" cy="28.80" r="2.2" fill="#62BD2A" stroke="#111" stroke-width="0.8"/>
<circle cx="528.69" cy="22.00" r="2.2" fill="#62BD2A" stroke="#111" stroke-width="0.8"/>
<circle cx="523.89" cy="54.50" r="2.2" fill="#96D1E8" stroke="#111" stroke-width="0.8"/>
<circle cx="523.89" cy="39.30" r="2.2" fill="#96D1E8" stroke="#111" stroke-width="0.8"/>
<circle cx="523.89" cy="28.80" r="2.2" fill="#96D1E8" stroke="#111" stroke-width="0.8"/>
<circle cx="523.89" cy="22.00" r="2.2" fill="#96D1E8" stroke="#111" stroke-width="0.8"/>
<circle cx="531.09" cy="70.10" r="2.2" fill="#7442B2" stroke="#111" stroke-width="0.8"/>
<circle cx="531.09" cy="56.20" r="2.2" fill="#7442B2" stroke="#111" stroke-width="0.8"/>
<circle cx="531.09" cy="26.50" r="2.2" fill="#7442B2" stroke="#111" stroke-width="0.8"/>
<circle cx="531.09" cy="23.20" r="2.2" fill="#7442B2" stroke="#111" stroke-width="0.8"/>
<circle cx="531.09" cy="19.80" r="2.2" fill="#7442B2" stroke="#111" stroke-width="0.8"/>
<circle cx="521.50" cy="85.30" r="2.2" fill="#F4A12E" stroke="#111" stroke-width="0.8"/>
<circle cx="521.50" cy="65.20" r="2.2" fill="#F4A12E" stroke="#111" stroke-width="0.8"/>
<circle cx="521.50" cy="27.60" r="2.2" fill="#F4A12E" stroke="#111" stroke-width="0.8"/>
<circle cx="521.50" cy="24.30" r="2.2" fill="#F4A12E" stroke="#111" stroke-width="0.8"/>
<circle cx="521.50" cy="20.50" r="2.2" fill="#F4A12E" stroke="#111" stroke-width="0.8"/>
<path d="M101.0 12.5 H554.6 V141.0 H101.0 Z" fill="none" stroke="#6f6f6f" stroke-width="1"/>
<line x1="95" y1="17.30" x2="101.0" y2="17.30" stroke="#6f6f6f" stroke-width="1"/>
<text x="91.00" y="20.40" font-size="8.6" text-anchor="end" >1.0</text>
<line x1="95" y1="47.86" x2="101.0" y2="47.86" stroke="#6f6f6f" stroke-width="1"/>
<text x="91.00" y="50.96" font-size="8.6" text-anchor="end" >0.8</text>
<line x1="95" y1="78.42" x2="101.0" y2="78.42" stroke="#6f6f6f" stroke-width="1"/>
<text x="91.00" y="81.52" font-size="8.6" text-anchor="end" >0.6</text>
<line x1="95" y1="108.98" x2="101.0" y2="108.98" stroke="#6f6f6f" stroke-width="1"/>
<text x="91.00" y="112.08" font-size="8.6" text-anchor="end" >0.4</text>
<line x1="95" y1="139.54" x2="101.0" y2="139.54" stroke="#6f6f6f" stroke-width="1"/>
<text x="91.00" y="142.64" font-size="8.6" text-anchor="end" >0.2</text>
<line x1="129.60" y1="141.0" x2="129.60" y2="147" stroke="#6f6f6f" stroke-width="1"/>
<text transform="translate(128.40,152.2) rotate(-90)" font-size="8.3" text-anchor="end">Lee KLD</text>
<text transform="translate(139.10,152.2) rotate(-90)" font-size="8.3" text-anchor="end">filter HC</text>
<line x1="152.94" y1="141.0" x2="152.94" y2="147" stroke="#6f6f6f" stroke-width="1"/>
<text transform="translate(151.74,152.2) rotate(-90)" font-size="8.3" text-anchor="end">Lee KLD</text>
<text transform="translate(162.44,152.2) rotate(-90)" font-size="8.3" text-anchor="end">no filter HC</text>
<line x1="176.27" y1="141.0" x2="176.27" y2="147" stroke="#6f6f6f" stroke-width="1"/>
<text transform="translate(175.07,152.2) rotate(-90)" font-size="8.3" text-anchor="end">Lee KLD</text>
<text transform="translate(185.77,152.2) rotate(-90)" font-size="8.3" text-anchor="end">filter CM</text>
<line x1="199.60" y1="141.0" x2="199.60" y2="147" stroke="#6f6f6f" stroke-width="1"/>
<text transform="translate(198.41,152.2) rotate(-90)" font-size="8.3" text-anchor="end">Lee KLD</text>
<text transform="translate(209.10,152.2) rotate(-90)" font-size="8.3" text-anchor="end">no filter CM</text>
<line x1="222.94" y1="141.0" x2="222.94" y2="147" stroke="#6f6f6f" stroke-width="1"/>
<text transform="translate(221.74,152.2) rotate(-90)" font-size="8.3" text-anchor="end">Lee KLD</text>
<text transform="translate(232.44,152.2) rotate(-90)" font-size="8.3" text-anchor="end">filter PAM</text>
<line x1="246.28" y1="141.0" x2="246.28" y2="147" stroke="#6f6f6f" stroke-width="1"/>
<text transform="translate(245.08,152.2) rotate(-90)" font-size="8.3" text-anchor="end">Lee KLD</text>
<text transform="translate(255.78,152.2) rotate(-90)" font-size="8.3" text-anchor="end">no filter PAM</text>
<line x1="269.61" y1="141.0" x2="269.61" y2="147" stroke="#6f6f6f" stroke-width="1"/>
<text transform="translate(268.41,152.2) rotate(-90)" font-size="8.3" text-anchor="end">Lee Frobenius</text>
<text transform="translate(279.11,152.2) rotate(-90)" font-size="8.3" text-anchor="end">filter HC</text>
<line x1="292.94" y1="141.0" x2="292.94" y2="147" stroke="#6f6f6f" stroke-width="1"/>
<text transform="translate(291.75,152.2) rotate(-90)" font-size="8.3" text-anchor="end">Lee Frobenius</text>
<text transform="translate(302.44,152.2) rotate(-90)" font-size="8.3" text-anchor="end">no filter HC</text>
<line x1="316.28" y1="141.0" x2="316.28" y2="147" stroke="#6f6f6f" stroke-width="1"/>
<text transform="translate(315.08,152.2) rotate(-90)" font-size="8.3" text-anchor="end">Lee Frobenius</text>
<text transform="translate(325.78,152.2) rotate(-90)" font-size="8.3" text-anchor="end">filter CM</text>
<line x1="339.62" y1="141.0" x2="339.62" y2="147" stroke="#6f6f6f" stroke-width="1"/>
<text transform="translate(338.42,152.2) rotate(-90)" font-size="8.3" text-anchor="end">Lee Frobenius</text>
<text transform="translate(349.12,152.2) rotate(-90)" font-size="8.3" text-anchor="end">no filter CM</text>
<line x1="362.95" y1="141.0" x2="362.95" y2="147" stroke="#6f6f6f" stroke-width="1"/>
<text transform="translate(361.75,152.2) rotate(-90)" font-size="8.3" text-anchor="end">Lee Frobenius</text>
<text transform="translate(372.45,152.2) rotate(-90)" font-size="8.3" text-anchor="end">filter PAM</text>
<line x1="386.28" y1="141.0" x2="386.28" y2="147" stroke="#6f6f6f" stroke-width="1"/>
<text transform="translate(385.08,152.2) rotate(-90)" font-size="8.3" text-anchor="end">Lee Frobenius</text>
<text transform="translate(395.78,152.2) rotate(-90)" font-size="8.3" text-anchor="end">no filter PAM</text>
<line x1="409.62" y1="141.0" x2="409.62" y2="147" stroke="#6f6f6f" stroke-width="1"/>
<text transform="translate(408.42,152.2) rotate(-90)" font-size="8.3" text-anchor="end">nsNMF</text>
<text transform="translate(419.12,152.2) rotate(-90)" font-size="8.3" text-anchor="end">filter HC</text>
<line x1="432.96" y1="141.0" x2="432.96" y2="147" stroke="#6f6f6f" stroke-width="1"/>
<text transform="translate(431.76,152.2) rotate(-90)" font-size="8.3" text-anchor="end">nsNMF</text>
<text transform="translate(442.46,152.2) rotate(-90)" font-size="8.3" text-anchor="end">no filter HC</text>
<line x1="456.29" y1="141.0" x2="456.29" y2="147" stroke="#6f6f6f" stroke-width="1"/>
<text transform="translate(455.09,152.2) rotate(-90)" font-size="8.3" text-anchor="end">nsNMF</text>
<text transform="translate(465.79,152.2) rotate(-90)" font-size="8.3" text-anchor="end">filter CM</text>
<line x1="479.62" y1="141.0" x2="479.62" y2="147" stroke="#6f6f6f" stroke-width="1"/>
<text transform="translate(478.43,152.2) rotate(-90)" font-size="8.3" text-anchor="end">nsNMF</text>
<text transform="translate(489.12,152.2) rotate(-90)" font-size="8.3" text-anchor="end">no filter CM</text>
<line x1="502.96" y1="141.0" x2="502.96" y2="147" stroke="#6f6f6f" stroke-width="1"/>
<text transform="translate(501.76,152.2) rotate(-90)" font-size="8.3" text-anchor="end">nsNMF</text>
<text transform="translate(512.46,152.2) rotate(-90)" font-size="8.3" text-anchor="end">filter PAM</text>
<line x1="526.29" y1="141.0" x2="526.29" y2="147" stroke="#6f6f6f" stroke-width="1"/>
<text transform="translate(525.09,152.2) rotate(-90)" font-size="8.3" text-anchor="end">nsNMF</text>
<text transform="translate(535.79,152.2) rotate(-90)" font-size="8.3" text-anchor="end">no filter PAM</text>
<text x="328.00" y="8.40" font-size="8.7" text-anchor="middle" >Similarity of retrieved signature to COSMIC signatures</text>
<text transform="translate(69,78) rotate(-90)" font-size="8.8" text-anchor="middle">Cosine similarity</text>
<text x="63" y="4.5" font-size="10" font-weight="bold">a</text>
<circle cx="565.2" cy="53.70" r="2.05" fill="#E5412B" stroke="#111" stroke-width="0.65"/>
<text x="571.30" y="56.80" font-size="8.5" text-anchor="start" >Replicate 1</text>
<circle cx="565.2" cy="65.30" r="2.05" fill="#62BD2A" stroke="#111" stroke-width="0.65"/>
<text x="571.30" y="68.40" font-size="8.5" text-anchor="start" >Replicate 2</text>
<circle cx="565.2" cy="76.90" r="2.05" fill="#96D1E8" stroke="#111" stroke-width="0.65"/>
<text x="571.30" y="80.00" font-size="8.5" text-anchor="start" >Replicate 3</text>
<circle cx="565.2" cy="88.50" r="2.05" fill="#7442B2" stroke="#111" stroke-width="0.65"/>
<text x="571.30" y="91.60" font-size="8.5" text-anchor="start" >Replicate 4</text>
<circle cx="565.2" cy="100.10" r="2.05" fill="#F4A12E" stroke="#111" stroke-width="0.65"/>
<text x="571.30" y="103.20" font-size="8.5" text-anchor="start" >Replicate 5</text>
<line x1="33.5" y1="254.20" x2="150.2" y2="254.20" stroke="#d4d4d4" stroke-width="0.75" stroke-dasharray="1 2.2"/>
<line x1="33.5" y1="277.97" x2="150.2" y2="277.97" stroke="#d4d4d4" stroke-width="0.75" stroke-dasharray="1 2.2"/>
<line x1="33.5" y1="301.75" x2="150.2" y2="301.75" stroke="#d4d4d4" stroke-width="0.75" stroke-dasharray="1 2.2"/>
<line x1="33.5" y1="325.52" x2="150.2" y2="325.52" stroke="#d4d4d4" stroke-width="0.75" stroke-dasharray="1 2.2"/>
<line x1="33.5" y1="349.30" x2="150.2" y2="349.30" stroke="#d4d4d4" stroke-width="0.75" stroke-dasharray="1 2.2"/>
<line x1="37.30" y1="250.7" x2="37.30" y2="358.4" stroke="#d4d4d4" stroke-width="0.75" stroke-dasharray="1 2.2"/>
<line x1="64.33" y1="250.7" x2="64.33" y2="358.4" stroke="#d4d4d4" stroke-width="0.75" stroke-dasharray="1 2.2"/>
<line x1="91.35" y1="250.7" x2="91.35" y2="358.4" stroke="#d4d4d4" stroke-width="0.75" stroke-dasharray="1 2.2"/>
<line x1="118.38" y1="250.7" x2="118.38" y2="358.4" stroke="#d4d4d4" stroke-width="0.75" stroke-dasharray="1 2.2"/>
<line x1="145.40" y1="250.7" x2="145.40" y2="358.4" stroke="#d4d4d4" stroke-width="0.75" stroke-dasharray="1 2.2"/>
<polyline points="37.30,269.53 64.33,272.98 91.35,277.74 118.38,283.21 145.40,288.91" fill="none" stroke="#C4C4C4" stroke-width="1.6" stroke-linejoin="round"/>
<path d="M37.30 267.53 V271.53 M33.70 267.53 H40.90 M33.70 271.53 H40.90" fill="none" stroke="#C4C4C4" stroke-width="1.44"/>
<path d="M64.33 270.98 V274.98 M60.73 270.98 H67.92 M60.73 274.98 H67.92" fill="none" stroke="#C4C4C4" stroke-width="1.44"/>
<path d="M91.35 275.74 V279.74 M87.75 275.74 H94.95 M87.75 279.74 H94.95" fill="none" stroke="#C4C4C4" stroke-width="1.44"/>
<path d="M118.38 281.21 V285.21 M114.78 281.21 H121.97 M114.78 285.21 H121.97" fill="none" stroke="#C4C4C4" stroke-width="1.44"/>
<path d="M145.40 287.41 V290.41 M141.80 287.41 H149.00 M141.80 290.41 H149.00" fill="none" stroke="#C4C4C4" stroke-width="1.44"/>
<polyline points="37.30,270.72 64.33,275.48 91.35,282.61 118.38,287.72 145.40,292.72" fill="none" stroke="#62BD2A" stroke-width="1.6" stroke-linejoin="round"/>
<path d="M37.30 268.22 V273.22 M33.70 268.22 H40.90 M33.70 273.22 H40.90" fill="none" stroke="#62BD2A" stroke-width="1.44"/>
<path d="M64.33 272.48 V278.48 M60.73 272.48 H67.92 M60.73 278.48 H67.92" fill="none" stroke="#62BD2A" stroke-width="1.44"/>
<path d="M91.35 279.61 V285.61 M87.75 279.61 H94.95 M87.75 285.61 H94.95" fill="none" stroke="#62BD2A" stroke-width="1.44"/>
<path d="M118.38 285.72 V289.72 M114.78 285.72 H121.97 M114.78 289.72 H121.97" fill="none" stroke="#62BD2A" stroke-width="1.44"/>
<path d="M145.40 290.22 V295.22 M141.80 290.22 H149.00 M141.80 295.22 H149.00" fill="none" stroke="#62BD2A" stroke-width="1.44"/>
<polyline points="37.30,263.00 64.33,261.69 91.35,268.58 118.38,295.69 145.40,315.66" fill="none" stroke="#96D1E8" stroke-width="1.6" stroke-linejoin="round"/>
<path d="M37.30 260.00 V266.00 M33.70 260.00 H40.90 M33.70 266.00 H40.90" fill="none" stroke="#96D1E8" stroke-width="1.44"/>
<path d="M64.33 260.69 V262.69 M60.73 260.69 H67.92 M60.73 262.69 H67.92" fill="none" stroke="#96D1E8" stroke-width="1.44"/>
<path d="M91.35 267.58 V269.58 M87.75 267.58 H94.95 M87.75 269.58 H94.95" fill="none" stroke="#96D1E8" stroke-width="1.44"/>
<path d="M118.38 293.69 V297.69 M114.78 293.69 H121.97 M114.78 297.69 H121.97" fill="none" stroke="#96D1E8" stroke-width="1.44"/>
<path d="M145.40 313.16 V318.16 M141.80 313.16 H149.00 M141.80 318.16 H149.00" fill="none" stroke="#96D1E8" stroke-width="1.44"/>
<polyline points="37.30,260.86 64.33,261.69 91.35,268.58 118.38,276.79 145.40,286.42" fill="none" stroke="#E5412B" stroke-width="1.6" stroke-linejoin="round"/>
<path d="M37.30 259.36 V262.36 M33.70 259.36 H40.90 M33.70 262.36 H40.90" fill="none" stroke="#E5412B" stroke-width="1.44"/>
<path d="M64.33 260.69 V262.69 M60.73 260.69 H67.92 M60.73 262.69 H67.92" fill="none" stroke="#E5412B" stroke-width="1.44"/>
<path d="M91.35 267.58 V269.58 M87.75 267.58 H94.95 M87.75 269.58 H94.95" fill="none" stroke="#E5412B" stroke-width="1.44"/>
<path d="M118.38 275.29 V278.29 M114.78 275.29 H121.97 M114.78 278.29 H121.97" fill="none" stroke="#E5412B" stroke-width="1.44"/>
<path d="M145.40 284.42 V288.42 M141.80 284.42 H149.00 M141.80 288.42 H149.00" fill="none" stroke="#E5412B" stroke-width="1.44"/>
<polyline points="37.30,260.86 64.33,261.69 91.35,268.58 118.38,276.79 145.40,284.51" fill="none" stroke="#F4A12E" stroke-width="1.6" stroke-linejoin="round"/>
<path d="M37.30 258.36 V263.36 M33.70 258.36 H40.90 M33.70 263.36 H40.90" fill="none" stroke="#F4A12E" stroke-width="1.44"/>
<path d="M64.33 260.69 V262.69 M60.73 260.69 H67.92 M60.73 262.69 H67.92" fill="none" stroke="#F4A12E" stroke-width="1.44"/>
<path d="M91.35 267.08 V270.08 M87.75 267.08 H94.95 M87.75 270.08 H94.95" fill="none" stroke="#F4A12E" stroke-width="1.44"/>
<path d="M118.38 275.29 V278.29 M114.78 275.29 H121.97 M114.78 278.29 H121.97" fill="none" stroke="#F4A12E" stroke-width="1.44"/>
<path d="M145.40 282.51 V286.51 M141.80 282.51 H149.00 M141.80 286.51 H149.00" fill="none" stroke="#F4A12E" stroke-width="1.44"/>
<polyline points="37.30,290.69 64.33,295.09 91.35,309.12 118.38,325.88 145.40,342.17" fill="none" stroke="#7442B2" stroke-width="1.6" stroke-linejoin="round"/>
<path d="M37.30 283.99 V297.39 M33.70 283.99 H40.90 M33.70 297.39 H40.90" fill="none" stroke="#7442B2" stroke-width="1.44"/>
<path d="M64.33 288.89 V301.29 M60.73 288.89 H67.92 M60.73 301.29 H67.92" fill="none" stroke="#7442B2" stroke-width="1.44"/>
<path d="M91.35 304.32 V313.92 M87.75 304.32 H94.95 M87.75 313.92 H94.95" fill="none" stroke="#7442B2" stroke-width="1.44"/>
<path d="M118.38 322.98 V328.78 M114.78 322.98 H121.97 M114.78 328.78 H121.97" fill="none" stroke="#7442B2" stroke-width="1.44"/>
<path d="M145.40 337.97 V346.37 M141.80 337.97 H149.00 M141.80 346.37 H149.00" fill="none" stroke="#7442B2" stroke-width="1.44"/>
<path d="M33.5 250.7 H150.2 V358.4 H33.5 Z" fill="none" stroke="#6f6f6f" stroke-width="1"/>
<line x1="29.20" y1="254.20" x2="33.5" y2="254.20" stroke="#6f6f6f" stroke-width="1"/>
<text x="25.90" y="257.30" font-size="8.7" text-anchor="end" >1.0</text>
<line x1="29.20" y1="277.97" x2="33.5" y2="277.97" stroke="#6f6f6f" stroke-width="1"/>
<text x="25.90" y="281.07" font-size="8.7" text-anchor="end" >0.8</text>
<line x1="29.20" y1="301.75" x2="33.5" y2="301.75" stroke="#6f6f6f" stroke-width="1"/>
<text x="25.90" y="304.85" font-size="8.7" text-anchor="end" >0.6</text>
<line x1="29.20" y1="325.52" x2="33.5" y2="325.52" stroke="#6f6f6f" stroke-width="1"/>
<text x="25.90" y="328.62" font-size="8.7" text-anchor="end" >0.4</text>
<line x1="29.20" y1="349.30" x2="33.5" y2="349.30" stroke="#6f6f6f" stroke-width="1"/>
<text x="25.90" y="352.40" font-size="8.7" text-anchor="end" >0.2</text>
<line x1="37.30" y1="358.4" x2="37.30" y2="362.80" stroke="#6f6f6f" stroke-width="1"/>
<text x="37.30" y="373.20" font-size="8.7" text-anchor="middle" >8</text>
<line x1="64.33" y1="358.4" x2="64.33" y2="362.80" stroke="#6f6f6f" stroke-width="1"/>
<text x="64.33" y="373.20" font-size="8.7" text-anchor="middle" >9</text>
<line x1="91.35" y1="358.4" x2="91.35" y2="362.80" stroke="#6f6f6f" stroke-width="1"/>
<text x="91.35" y="373.20" font-size="8.7" text-anchor="middle" >10</text>
<line x1="118.38" y1="358.4" x2="118.38" y2="362.80" stroke="#6f6f6f" stroke-width="1"/>
<text x="118.38" y="373.20" font-size="8.7" text-anchor="middle" >11</text>
<line x1="145.40" y1="358.4" x2="145.40" y2="362.80" stroke="#6f6f6f" stroke-width="1"/>
<text x="145.40" y="373.20" font-size="8.7" text-anchor="middle" >12</text>
<text x="87.90" y="248.00" font-size="8.7" text-anchor="middle" >Lee–KLD</text>
<text transform="translate(6.4,297.5) rotate(-90)" font-size="8.7" text-anchor="middle">ASW</text>
<text x="91.85" y="386.6" font-size="8.7" text-anchor="middle"><tspan font-style="italic">n</tspan> signatures</text>
<line x1="200.8" y1="254.90" x2="317.6" y2="254.90" stroke="#d4d4d4" stroke-width="0.75" stroke-dasharray="1 2.2"/>
<line x1="200.8" y1="278.65" x2="317.6" y2="278.65" stroke="#d4d4d4" stroke-width="0.75" stroke-dasharray="1 2.2"/>
<line x1="200.8" y1="302.40" x2="317.6" y2="302.40" stroke="#d4d4d4" stroke-width="0.75" stroke-dasharray="1 2.2"/>
<line x1="200.8" y1="326.15" x2="317.6" y2="326.15" stroke="#d4d4d4" stroke-width="0.75" stroke-dasharray="1 2.2"/>
<line x1="200.8" y1="349.90" x2="317.6" y2="349.90" stroke="#d4d4d4" stroke-width="0.75" stroke-dasharray="1 2.2"/>
<line x1="205.10" y1="251.1" x2="205.10" y2="359.0" stroke="#d4d4d4" stroke-width="0.75" stroke-dasharray="1 2.2"/>
<line x1="232.15" y1="251.1" x2="232.15" y2="359.0" stroke="#d4d4d4" stroke-width="0.75" stroke-dasharray="1 2.2"/>
<line x1="259.20" y1="251.1" x2="259.20" y2="359.0" stroke="#d4d4d4" stroke-width="0.75" stroke-dasharray="1 2.2"/>
<line x1="286.25" y1="251.1" x2="286.25" y2="359.0" stroke="#d4d4d4" stroke-width="0.75" stroke-dasharray="1 2.2"/>
<line x1="313.30" y1="251.1" x2="313.30" y2="359.0" stroke="#d4d4d4" stroke-width="0.75" stroke-dasharray="1 2.2"/>
<polyline points="205.10,277.82 232.15,286.49 259.20,292.78 286.25,298.96 313.30,304.30" fill="none" stroke="#62BD2A" stroke-width="1.6" stroke-linejoin="round"/>
<path d="M205.10 274.82 V280.82 M201.50 274.82 H208.70 M201.50 280.82 H208.70" fill="none" stroke="#62BD2A" stroke-width="1.44"/>
<path d="M232.15 282.99 V289.99 M228.55 282.99 H235.75 M228.55 289.99 H235.75" fill="none" stroke="#62BD2A" stroke-width="1.44"/>
<path d="M259.20 289.78 V295.78 M255.60 289.78 H262.80 M255.60 295.78 H262.80" fill="none" stroke="#62BD2A" stroke-width="1.44"/>
<path d="M286.25 296.46 V301.46 M282.65 296.46 H289.85 M282.65 301.46 H289.85" fill="none" stroke="#62BD2A" stroke-width="1.44"/>
<path d="M313.30 302.30 V306.30 M309.70 302.30 H316.90 M309.70 306.30 H316.90" fill="none" stroke="#62BD2A" stroke-width="1.44"/>
<polyline points="205.10,277.82 232.15,286.49 259.20,292.78 286.25,298.96 313.30,304.30" fill="none" stroke="#C4C4C4" stroke-width="1.6" stroke-linejoin="round"/>
<path d="M205.10 274.82 V280.82 M201.50 274.82 H208.70 M201.50 280.82 H208.70" fill="none" stroke="#C4C4C4" stroke-width="1.44"/>
<path d="M232.15 282.99 V289.99 M228.55 282.99 H235.75 M228.55 289.99 H235.75" fill="none" stroke="#C4C4C4" stroke-width="1.44"/>
<path d="M259.20 289.78 V295.78 M255.60 289.78 H262.80 M255.60 295.78 H262.80" fill="none" stroke="#C4C4C4" stroke-width="1.44"/>
<path d="M286.25 296.46 V301.46 M282.65 296.46 H289.85 M282.65 301.46 H289.85" fill="none" stroke="#C4C4C4" stroke-width="1.44"/>
<path d="M313.30 302.30 V306.30 M309.70 302.30 H316.90 M309.70 306.30 H316.90" fill="none" stroke="#C4C4C4" stroke-width="1.44"/>
<polyline points="205.10,267.84 232.15,275.56 259.20,285.89 286.25,290.64 313.30,292.19" fill="none" stroke="#E5412B" stroke-width="1.6" stroke-linejoin="round"/>
<path d="M205.10 264.34 V271.34 M201.50 264.34 H208.70 M201.50 271.34 H208.70" fill="none" stroke="#E5412B" stroke-width="1.44"/>
<path d="M232.15 273.56 V277.56 M228.55 273.56 H235.75 M228.55 277.56 H235.75" fill="none" stroke="#E5412B" stroke-width="1.44"/>
<path d="M259.20 282.39 V289.39 M255.60 282.39 H262.80 M255.60 289.39 H262.80" fill="none" stroke="#E5412B" stroke-width="1.44"/>
<path d="M286.25 288.14 V293.14 M282.65 288.14 H289.85 M282.65 293.14 H289.85" fill="none" stroke="#E5412B" stroke-width="1.44"/>
<path d="M313.30 289.19 V295.19 M309.70 289.19 H316.90 M309.70 295.19 H316.90" fill="none" stroke="#E5412B" stroke-width="1.44"/>
<polyline points="205.10,272.00 232.15,281.74 259.20,307.62 286.25,316.29 313.30,329.71" fill="none" stroke="#96D1E8" stroke-width="1.6" stroke-linejoin="round"/>
<path d="M205.10 269.00 V275.00 M201.50 269.00 H208.70 M201.50 275.00 H208.70" fill="none" stroke="#96D1E8" stroke-width="1.44"/>
<path d="M232.15 278.74 V284.74 M228.55 278.74 H235.75 M228.55 284.74 H235.75" fill="none" stroke="#96D1E8" stroke-width="1.44"/>
<path d="M259.20 303.62 V311.62 M255.60 303.62 H262.80 M255.60 311.62 H262.80" fill="none" stroke="#96D1E8" stroke-width="1.44"/>
<path d="M286.25 313.79 V318.79 M282.65 313.79 H289.85 M282.65 318.79 H289.85" fill="none" stroke="#96D1E8" stroke-width="1.44"/>
<path d="M313.30 325.21 V334.21 M309.70 325.21 H316.90 M309.70 334.21 H316.90" fill="none" stroke="#96D1E8" stroke-width="1.44"/>
<polyline points="205.10,267.84 232.15,275.56 259.20,285.89 286.25,290.64 313.30,292.19" fill="none" stroke="#F4A12E" stroke-width="1.6" stroke-linejoin="round"/>
<path d="M205.10 264.34 V271.34 M201.50 264.34 H208.70 M201.50 271.34 H208.70" fill="none" stroke="#F4A12E" stroke-width="1.44"/>
<path d="M232.15 273.56 V277.56 M228.55 273.56 H235.75 M228.55 277.56 H235.75" fill="none" stroke="#F4A12E" stroke-width="1.44"/>
<path d="M259.20 282.39 V289.39 M255.60 282.39 H262.80 M255.60 289.39 H262.80" fill="none" stroke="#F4A12E" stroke-width="1.44"/>
<path d="M286.25 288.14 V293.14 M282.65 288.14 H289.85 M282.65 293.14 H289.85" fill="none" stroke="#F4A12E" stroke-width="1.44"/>
<path d="M313.30 289.19 V295.19 M309.70 289.19 H316.90 M309.70 295.19 H316.90" fill="none" stroke="#F4A12E" stroke-width="1.44"/>
<polyline points="205.10,303.35 232.15,319.14 259.20,332.21 286.25,342.18 313.30,352.75" fill="none" stroke="#7442B2" stroke-width="1.6" stroke-linejoin="round"/>
<path d="M205.10 297.35 V309.35 M201.50 297.35 H208.70 M201.50 309.35 H208.70" fill="none" stroke="#7442B2" stroke-width="1.44"/>
<path d="M232.15 313.14 V325.14 M228.55 313.14 H235.75 M228.55 325.14 H235.75" fill="none" stroke="#7442B2" stroke-width="1.44"/>
<path d="M259.20 326.71 V337.71 M255.60 326.71 H262.80 M255.60 337.71 H262.80" fill="none" stroke="#7442B2" stroke-width="1.44"/>
<path d="M286.25 338.18 V346.18 M282.65 338.18 H289.85 M282.65 346.18 H289.85" fill="none" stroke="#7442B2" stroke-width="1.44"/>
<path d="M313.30 350.25 V355.25 M309.70 350.25 H316.90 M309.70 355.25 H316.90" fill="none" stroke="#7442B2" stroke-width="1.44"/>
<path d="M200.8 251.1 H317.6 V359.0 H200.8 Z" fill="none" stroke="#6f6f6f" stroke-width="1"/>
<line x1="196.50" y1="254.90" x2="200.8" y2="254.90" stroke="#6f6f6f" stroke-width="1"/>
<text x="193.20" y="258.00" font-size="8.7" text-anchor="end" >1.0</text>
<line x1="196.50" y1="278.65" x2="200.8" y2="278.65" stroke="#6f6f6f" stroke-width="1"/>
<text x="193.20" y="281.75" font-size="8.7" text-anchor="end" >0.8</text>
<line x1="196.50" y1="302.40" x2="200.8" y2="302.40" stroke="#6f6f6f" stroke-width="1"/>
<text x="193.20" y="305.50" font-size="8.7" text-anchor="end" >0.6</text>
<line x1="196.50" y1="326.15" x2="200.8" y2="326.15" stroke="#6f6f6f" stroke-width="1"/>
<text x="193.20" y="329.25" font-size="8.7" text-anchor="end" >0.4</text>
<line x1="196.50" y1="349.90" x2="200.8" y2="349.90" stroke="#6f6f6f" stroke-width="1"/>
<text x="193.20" y="353.00" font-size="8.7" text-anchor="end" >0.2</text>
<line x1="205.10" y1="359.0" x2="205.10" y2="363.40" stroke="#6f6f6f" stroke-width="1"/>
<text x="205.10" y="373.20" font-size="8.7" text-anchor="middle" >8</text>
<line x1="232.15" y1="359.0" x2="232.15" y2="363.40" stroke="#6f6f6f" stroke-width="1"/>
<text x="232.15" y="373.20" font-size="8.7" text-anchor="middle" >9</text>
<line x1="259.20" y1="359.0" x2="259.20" y2="363.40" stroke="#6f6f6f" stroke-width="1"/>
<text x="259.20" y="373.20" font-size="8.7" text-anchor="middle" >10</text>
<line x1="286.25" y1="359.0" x2="286.25" y2="363.40" stroke="#6f6f6f" stroke-width="1"/>
<text x="286.25" y="373.20" font-size="8.7" text-anchor="middle" >11</text>
<line x1="313.30" y1="359.0" x2="313.30" y2="363.40" stroke="#6f6f6f" stroke-width="1"/>
<text x="313.30" y="373.20" font-size="8.7" text-anchor="middle" >12</text>
<text x="258.40" y="248.00" font-size="8.7" text-anchor="middle" >Lee–Frobenius</text>
<text transform="translate(174.8,297.5) rotate(-90)" font-size="8.7" text-anchor="middle">ASW</text>
<text x="259.20" y="386.6" font-size="8.7" text-anchor="middle"><tspan font-style="italic">n</tspan> signatures</text>
<line x1="363.5" y1="254.30" x2="480.8" y2="254.30" stroke="#d4d4d4" stroke-width="0.75" stroke-dasharray="1 2.2"/>
<line x1="363.5" y1="278.05" x2="480.8" y2="278.05" stroke="#d4d4d4" stroke-width="0.75" stroke-dasharray="1 2.2"/>
<line x1="363.5" y1="301.80" x2="480.8" y2="301.80" stroke="#d4d4d4" stroke-width="0.75" stroke-dasharray="1 2.2"/>
<line x1="363.5" y1="325.55" x2="480.8" y2="325.55" stroke="#d4d4d4" stroke-width="0.75" stroke-dasharray="1 2.2"/>
<line x1="363.5" y1="349.30" x2="480.8" y2="349.30" stroke="#d4d4d4" stroke-width="0.75" stroke-dasharray="1 2.2"/>
<line x1="367.70" y1="250.7" x2="367.70" y2="358.4" stroke="#d4d4d4" stroke-width="0.75" stroke-dasharray="1 2.2"/>
<line x1="394.77" y1="250.7" x2="394.77" y2="358.4" stroke="#d4d4d4" stroke-width="0.75" stroke-dasharray="1 2.2"/>
<line x1="421.85" y1="250.7" x2="421.85" y2="358.4" stroke="#d4d4d4" stroke-width="0.75" stroke-dasharray="1 2.2"/>
<line x1="448.93" y1="250.7" x2="448.93" y2="358.4" stroke="#d4d4d4" stroke-width="0.75" stroke-dasharray="1 2.2"/>
<line x1="476.00" y1="250.7" x2="476.00" y2="358.4" stroke="#d4d4d4" stroke-width="0.75" stroke-dasharray="1 2.2"/>
<polyline points="367.70,270.93 394.77,277.34 421.85,279.71 448.93,281.73 476.00,286.01" fill="none" stroke="#62BD2A" stroke-width="1.6" stroke-linejoin="round"/>
<path d="M367.70 268.93 V272.93 M364.10 268.93 H371.30 M364.10 272.93 H371.30" fill="none" stroke="#62BD2A" stroke-width="1.44"/>
<path d="M394.77 274.34 V280.34 M391.17 274.34 H398.38 M391.17 280.34 H398.38" fill="none" stroke="#62BD2A" stroke-width="1.44"/>
<path d="M421.85 278.21 V281.21 M418.25 278.21 H425.45 M418.25 281.21 H425.45" fill="none" stroke="#62BD2A" stroke-width="1.44"/>
<path d="M448.93 279.23 V284.23 M445.32 279.23 H452.53 M445.32 284.23 H452.53" fill="none" stroke="#62BD2A" stroke-width="1.44"/>
<path d="M476.00 284.51 V287.51 M472.40 284.51 H479.60 M472.40 287.51 H479.60" fill="none" stroke="#62BD2A" stroke-width="1.44"/>
<polyline points="367.70,270.93 394.77,277.34 421.85,279.71 448.93,281.73 476.00,286.01" fill="none" stroke="#C4C4C4" stroke-width="1.6" stroke-linejoin="round"/>
<path d="M367.70 268.93 V272.93 M364.10 268.93 H371.30 M364.10 272.93 H371.30" fill="none" stroke="#C4C4C4" stroke-width="1.44"/>
<path d="M394.77 274.34 V280.34 M391.17 274.34 H398.38 M391.17 280.34 H398.38" fill="none" stroke="#C4C4C4" stroke-width="1.44"/>
<path d="M421.85 278.21 V281.21 M418.25 278.21 H425.45 M418.25 281.21 H425.45" fill="none" stroke="#C4C4C4" stroke-width="1.44"/>
<path d="M448.93 279.23 V284.23 M445.32 279.23 H452.53 M445.32 284.23 H452.53" fill="none" stroke="#C4C4C4" stroke-width="1.44"/>
<path d="M476.00 284.51 V287.51 M472.40 284.51 H479.60 M472.40 287.51 H479.60" fill="none" stroke="#C4C4C4" stroke-width="1.44"/>
<polyline points="367.70,255.73 394.77,257.62 421.85,260.12 448.93,264.99 476.00,275.91" fill="none" stroke="#96D1E8" stroke-width="1.6" stroke-linejoin="round"/>
<path d="M367.70 254.73 V256.73 M364.10 254.73 H371.30 M364.10 256.73 H371.30" fill="none" stroke="#96D1E8" stroke-width="1.44"/>
<path d="M394.77 255.62 V259.62 M391.17 255.62 H398.38 M391.17 259.62 H398.38" fill="none" stroke="#96D1E8" stroke-width="1.44"/>
<path d="M421.85 258.62 V261.62 M418.25 258.62 H425.45 M418.25 261.62 H425.45" fill="none" stroke="#96D1E8" stroke-width="1.44"/>
<path d="M448.93 262.49 V267.49 M445.32 262.49 H452.53 M445.32 267.49 H452.53" fill="none" stroke="#96D1E8" stroke-width="1.44"/>
<path d="M476.00 272.91 V278.91 M472.40 272.91 H479.60 M472.40 278.91 H479.60" fill="none" stroke="#96D1E8" stroke-width="1.44"/>
<polyline points="367.70,255.73 394.77,259.05 421.85,259.64 448.93,263.44 476.00,270.93" fill="none" stroke="#E5412B" stroke-width="1.6" stroke-linejoin="round"/>
<path d="M367.70 254.73 V256.73 M364.10 254.73 H371.30 M364.10 256.73 H371.30" fill="none" stroke="#E5412B" stroke-width="1.44"/>
<path d="M394.77 256.05 V262.05 M391.17 256.05 H398.38 M391.17 262.05 H398.38" fill="none" stroke="#E5412B" stroke-width="1.44"/>
<path d="M421.85 258.14 V261.14 M418.25 258.14 H425.45 M418.25 261.14 H425.45" fill="none" stroke="#E5412B" stroke-width="1.44"/>
<path d="M448.93 260.94 V265.94 M445.32 260.94 H452.53 M445.32 265.94 H452.53" fill="none" stroke="#E5412B" stroke-width="1.44"/>
<path d="M476.00 268.43 V273.43 M472.40 268.43 H479.60 M472.40 273.43 H479.60" fill="none" stroke="#E5412B" stroke-width="1.44"/>
<polyline points="367.70,255.73 394.77,259.05 421.85,259.64 448.93,263.44 476.00,270.93" fill="none" stroke="#F4A12E" stroke-width="1.6" stroke-linejoin="round"/>
<path d="M367.70 254.73 V256.73 M364.10 254.73 H371.30 M364.10 256.73 H371.30" fill="none" stroke="#F4A12E" stroke-width="1.44"/>
<path d="M394.77 256.05 V262.05 M391.17 256.05 H398.38 M391.17 262.05 H398.38" fill="none" stroke="#F4A12E" stroke-width="1.44"/>
<path d="M421.85 258.14 V261.14 M418.25 258.14 H425.45 M418.25 261.14 H425.45" fill="none" stroke="#F4A12E" stroke-width="1.44"/>
<path d="M448.93 260.94 V265.94 M445.32 260.94 H452.53 M445.32 265.94 H452.53" fill="none" stroke="#F4A12E" stroke-width="1.44"/>
<path d="M476.00 268.43 V273.43 M472.40 268.43 H479.60 M472.40 273.43 H479.60" fill="none" stroke="#F4A12E" stroke-width="1.44"/>
<polyline points="367.70,293.61 394.77,298.48 421.85,307.62 448.93,316.29 476.00,323.53" fill="none" stroke="#7442B2" stroke-width="1.6" stroke-linejoin="round"/>
<path d="M367.70 288.61 V298.61 M364.10 288.61 H371.30 M364.10 298.61 H371.30" fill="none" stroke="#7442B2" stroke-width="1.44"/>
<path d="M394.77 292.98 V303.98 M391.17 292.98 H398.38 M391.17 303.98 H398.38" fill="none" stroke="#7442B2" stroke-width="1.44"/>
<path d="M421.85 302.12 V313.12 M418.25 302.12 H425.45 M418.25 313.12 H425.45" fill="none" stroke="#7442B2" stroke-width="1.44"/>
<path d="M448.93 311.79 V320.79 M445.32 311.79 H452.53 M445.32 320.79 H452.53" fill="none" stroke="#7442B2" stroke-width="1.44"/>
<path d="M476.00 319.03 V328.03 M472.40 319.03 H479.60 M472.40 328.03 H479.60" fill="none" stroke="#7442B2" stroke-width="1.44"/>
<path d="M363.5 250.7 H480.8 V358.4 H363.5 Z" fill="none" stroke="#6f6f6f" stroke-width="1"/>
<line x1="359.20" y1="254.30" x2="363.5" y2="254.30" stroke="#6f6f6f" stroke-width="1"/>
<text x="355.90" y="257.40" font-size="8.7" text-anchor="end" >1.0</text>
<line x1="359.20" y1="278.05" x2="363.5" y2="278.05" stroke="#6f6f6f" stroke-width="1"/>
<text x="355.90" y="281.15" font-size="8.7" text-anchor="end" >0.8</text>
<line x1="359.20" y1="301.80" x2="363.5" y2="301.80" stroke="#6f6f6f" stroke-width="1"/>
<text x="355.90" y="304.90" font-size="8.7" text-anchor="end" >0.6</text>
<line x1="359.20" y1="325.55" x2="363.5" y2="325.55" stroke="#6f6f6f" stroke-width="1"/>
<text x="355.90" y="328.65" font-size="8.7" text-anchor="end" >0.4</text>
<line x1="359.20" y1="349.30" x2="363.5" y2="349.30" stroke="#6f6f6f" stroke-width="1"/>
<text x="355.90" y="352.40" font-size="8.7" text-anchor="end" >0.2</text>
<line x1="367.70" y1="358.4" x2="367.70" y2="362.80" stroke="#6f6f6f" stroke-width="1"/>
<text x="367.70" y="373.20" font-size="8.7" text-anchor="middle" >8</text>
<line x1="394.77" y1="358.4" x2="394.77" y2="362.80" stroke="#6f6f6f" stroke-width="1"/>
<text x="394.77" y="373.20" font-size="8.7" text-anchor="middle" >9</text>
<line x1="421.85" y1="358.4" x2="421.85" y2="362.80" stroke="#6f6f6f" stroke-width="1"/>
<text x="421.85" y="373.20" font-size="8.7" text-anchor="middle" >10</text>
<line x1="448.93" y1="358.4" x2="448.93" y2="362.80" stroke="#6f6f6f" stroke-width="1"/>
<text x="448.93" y="373.20" font-size="8.7" text-anchor="middle" >11</text>
<line x1="476.00" y1="358.4" x2="476.00" y2="362.80" stroke="#6f6f6f" stroke-width="1"/>
<text x="476.00" y="373.20" font-size="8.7" text-anchor="middle" >12</text>
<text x="421.40" y="248.00" font-size="8.7" text-anchor="middle" >nsNMF</text>
<text transform="translate(338.0,297.5) rotate(-90)" font-size="8.7" text-anchor="middle">ASW</text>
<text x="422.15" y="386.6" font-size="8.7" text-anchor="middle"><tspan font-style="italic">n</tspan> signatures</text>
<text x="182.90" y="236.10" font-size="8.7" text-anchor="start" >ASW (mean and standard error, <tspan font-style="italic">n</tspan> = 5)</text>
<text x="0" y="232.6" font-size="10" font-weight="bold">b</text>
<line x1="31.8" y1="402.4" x2="46.40" y2="402.4" stroke="#E5412B" stroke-width="1.6"/>
<text x="50.90" y="405.50" font-size="8.6" text-anchor="start" >Filter HC</text>
<line x1="103.3" y1="402.4" x2="117.90" y2="402.4" stroke="#62BD2A" stroke-width="1.6"/>
<text x="121.70" y="405.50" font-size="8.6" text-anchor="start" >No filter HC</text>
<line x1="175" y1="402.4" x2="189.60" y2="402.4" stroke="#96D1E8" stroke-width="1.6"/>
<text x="193.60" y="405.50" font-size="8.6" text-anchor="start" >Filter CM</text>
<line x1="247.2" y1="402.4" x2="261.80" y2="402.4" stroke="#7442B2" stroke-width="1.6"/>
<text x="265.40" y="405.50" font-size="8.6" text-anchor="start" >No filter CM</text>
<line x1="318.7" y1="402.4" x2="333.30" y2="402.4" stroke="#F4A12E" stroke-width="1.6"/>
<text x="336.60" y="405.50" font-size="8.6" text-anchor="start" >Filter PAM</text>
<line x1="390.6" y1="402.4" x2="405.20" y2="402.4" stroke="#C4C4C4" stroke-width="1.6"/>
<text x="408.80" y="405.50" font-size="8.6" text-anchor="start" >No filter PAM</text>
<line x1="533.0" y1="247.30" x2="684.6" y2="247.30" stroke="#d4d4d4" stroke-width="0.75" stroke-dasharray="1 2.2"/>
<line x1="533.0" y1="277.30" x2="684.6" y2="277.30" stroke="#d4d4d4" stroke-width="0.75" stroke-dasharray="1 2.2"/>
<line x1="533.0" y1="307.30" x2="684.6" y2="307.30" stroke="#d4d4d4" stroke-width="0.75" stroke-dasharray="1 2.2"/>
<line x1="533.0" y1="337.30" x2="684.6" y2="337.30" stroke="#d4d4d4" stroke-width="0.75" stroke-dasharray="1 2.2"/>
<line x1="533.0" y1="367.30" x2="684.6" y2="367.30" stroke="#d4d4d4" stroke-width="0.75" stroke-dasharray="1 2.2"/>
<line x1="538.60" y1="243.9" x2="538.60" y2="369.3" stroke="#d4d4d4" stroke-width="0.75" stroke-dasharray="1 2.2"/>
<line x1="573.72" y1="243.9" x2="573.72" y2="369.3" stroke="#d4d4d4" stroke-width="0.75" stroke-dasharray="1 2.2"/>
<line x1="608.84" y1="243.9" x2="608.84" y2="369.3" stroke="#d4d4d4" stroke-width="0.75" stroke-dasharray="1 2.2"/>
<line x1="643.96" y1="243.9" x2="643.96" y2="369.3" stroke="#d4d4d4" stroke-width="0.75" stroke-dasharray="1 2.2"/>
<line x1="679.08" y1="243.9" x2="679.08" y2="369.3" stroke="#d4d4d4" stroke-width="0.75" stroke-dasharray="1 2.2"/>
<polyline points="538.60,291.40 573.72,348.85 608.84,364.75 643.96,357.85 679.08,351.55" fill="none" stroke="#E5412B" stroke-width="1.0"/>
<path d="M538.60 284.00 V298.80 M535.90 284.00 H541.30 M535.90 298.80 H541.30" fill="none" stroke="#E5412B" stroke-width="1.3"/>
<path d="M573.72 343.85 V353.85 M571.02 343.85 H576.42 M571.02 353.85 H576.42" fill="none" stroke="#E5412B" stroke-width="1.3"/>
<path d="M608.84 363.75 V365.75 M606.14 363.75 H611.54 M606.14 365.75 H611.54" fill="none" stroke="#E5412B" stroke-width="1.3"/>
<path d="M643.96 356.85 V358.85 M641.26 356.85 H646.66 M641.26 358.85 H646.66" fill="none" stroke="#E5412B" stroke-width="1.3"/>
<path d="M679.08 350.55 V352.55 M676.38 350.55 H681.78 M676.38 352.55 H681.78" fill="none" stroke="#E5412B" stroke-width="1.3"/>
<polyline points="538.60,277.30 573.72,335.20 608.84,353.80 643.96,355.30 679.08,352.00" fill="none" stroke="#62BD2A" stroke-width="1.0"/>
<path d="M538.60 268.80 V285.80 M535.90 268.80 H541.30 M535.90 285.80 H541.30" fill="none" stroke="#62BD2A" stroke-width="1.3"/>
<path d="M573.72 329.20 V341.20 M571.02 329.20 H576.42 M571.02 341.20 H576.42" fill="none" stroke="#62BD2A" stroke-width="1.3"/>
<path d="M608.84 352.30 V355.30 M606.14 352.30 H611.54 M606.14 355.30 H611.54" fill="none" stroke="#62BD2A" stroke-width="1.3"/>
<path d="M643.96 354.30 V356.30 M641.26 354.30 H646.66 M641.26 356.30 H646.66" fill="none" stroke="#62BD2A" stroke-width="1.3"/>
<path d="M679.08 351.00 V353.00 M676.38 351.00 H681.78 M676.38 353.00 H681.78" fill="none" stroke="#62BD2A" stroke-width="1.3"/>
<polyline points="538.60,294.85 573.72,317.05 608.84,319.75 643.96,319.75 679.08,319.30" fill="none" stroke="#96D1E8" stroke-width="1.0"/>
<path d="M538.60 292.85 V296.85 M535.90 292.85 H541.30 M535.90 296.85 H541.30" fill="none" stroke="#96D1E8" stroke-width="1.3"/>
<path d="M573.72 315.55 V318.55 M571.02 315.55 H576.42 M571.02 318.55 H576.42" fill="none" stroke="#96D1E8" stroke-width="1.3"/>
<path d="M608.84 318.25 V321.25 M606.14 318.25 H611.54 M606.14 321.25 H611.54" fill="none" stroke="#96D1E8" stroke-width="1.3"/>
<path d="M643.96 318.25 V321.25 M641.26 318.25 H646.66 M641.26 321.25 H646.66" fill="none" stroke="#96D1E8" stroke-width="1.3"/>
<path d="M679.08 317.80 V320.80 M676.38 317.80 H681.78 M676.38 320.80 H681.78" fill="none" stroke="#96D1E8" stroke-width="1.3"/>
<polyline points="538.60,277.30 573.72,299.80 608.84,309.55 643.96,313.45 679.08,314.65" fill="none" stroke="#8556C4" stroke-width="1.3"/>
<path d="M538.60 271.60 V283.00 M535.90 271.60 H541.30 M535.90 283.00 H541.30" fill="none" stroke="#8556C4" stroke-width="1.3"/>
<path d="M573.72 294.80 V304.80 M571.02 294.80 H576.42 M571.02 304.80 H576.42" fill="none" stroke="#8556C4" stroke-width="1.3"/>
<path d="M608.84 304.75 V314.35 M606.14 304.75 H611.54 M606.14 314.35 H611.54" fill="none" stroke="#8556C4" stroke-width="1.3"/>
<path d="M643.96 310.05 V316.85 M641.26 310.05 H646.66 M641.26 316.85 H646.66" fill="none" stroke="#8556C4" stroke-width="1.3"/>
<path d="M679.08 311.65 V317.65 M676.38 311.65 H681.78 M676.38 317.65 H681.78" fill="none" stroke="#8556C4" stroke-width="1.3"/>
<polyline points="538.60,288.55 573.72,310.15 608.84,324.70 643.96,335.65 679.08,343.60" fill="none" stroke="#F4A12E" stroke-width="1.0"/>
<path d="M538.60 275.95 V301.15 M535.90 275.95 H541.30 M535.90 301.15 H541.30" fill="none" stroke="#F4A12E" stroke-width="1.3"/>
<path d="M573.72 299.15 V321.15 M571.02 299.15 H576.42 M571.02 321.15 H576.42" fill="none" stroke="#F4A12E" stroke-width="1.3"/>
<path d="M608.84 314.20 V335.20 M606.14 314.20 H611.54 M606.14 335.20 H611.54" fill="none" stroke="#F4A12E" stroke-width="1.3"/>
<path d="M643.96 326.05 V345.25 M641.26 326.05 H646.66 M641.26 345.25 H646.66" fill="none" stroke="#F4A12E" stroke-width="1.3"/>
<path d="M679.08 334.60 V352.60 M676.38 334.60 H681.78 M676.38 352.60 H681.78" fill="none" stroke="#F4A12E" stroke-width="1.3"/>
<polyline points="538.60,277.30 573.72,300.40 608.84,314.05 643.96,325.30 679.08,334.45" fill="none" stroke="#C4C4C4" stroke-width="1.0"/>
<path d="M538.60 264.30 V290.30 M535.90 264.30 H541.30 M535.90 290.30 H541.30" fill="none" stroke="#C4C4C4" stroke-width="1.3"/>
<path d="M573.72 286.40 V314.40 M571.02 286.40 H576.42 M571.02 314.40 H576.42" fill="none" stroke="#C4C4C4" stroke-width="1.3"/>
<path d="M608.84 303.05 V325.05 M606.14 303.05 H611.54 M606.14 325.05 H611.54" fill="none" stroke="#C4C4C4" stroke-width="1.3"/>
<path d="M643.96 313.60 V337.00 M641.26 313.60 H646.66 M641.26 337.00 H646.66" fill="none" stroke="#C4C4C4" stroke-width="1.3"/>
<path d="M679.08 324.85 V344.05 M676.38 324.85 H681.78 M676.38 344.05 H681.78" fill="none" stroke="#C4C4C4" stroke-width="1.3"/>
<path d="M533.0 243.9 H684.6 V369.3 H533.0 Z" fill="none" stroke="#6f6f6f" stroke-width="1"/>
<line x1="528.70" y1="247.30" x2="533.0" y2="247.30" stroke="#6f6f6f" stroke-width="1"/>
<text x="525.40" y="250.40" font-size="8.7" text-anchor="end" >1.2</text>
<line x1="528.70" y1="277.30" x2="533.0" y2="277.30" stroke="#6f6f6f" stroke-width="1"/>
<text x="525.40" y="280.40" font-size="8.7" text-anchor="end" >1.0</text>
<line x1="528.70" y1="307.30" x2="533.0" y2="307.30" stroke="#6f6f6f" stroke-width="1"/>
<text x="525.40" y="310.40" font-size="8.7" text-anchor="end" >0.8</text>
<line x1="528.70" y1="337.30" x2="533.0" y2="337.30" stroke="#6f6f6f" stroke-width="1"/>
<text x="525.40" y="340.40" font-size="8.7" text-anchor="end" >0.6</text>
<line x1="528.70" y1="367.30" x2="533.0" y2="367.30" stroke="#6f6f6f" stroke-width="1"/>
<text x="525.40" y="370.40" font-size="8.7" text-anchor="end" >0.4</text>
<line x1="538.60" y1="369.3" x2="538.60" y2="373.70" stroke="#6f6f6f" stroke-width="1"/>
<text x="538.60" y="383.80" font-size="8.7" text-anchor="middle" >8</text>
<line x1="573.72" y1="369.3" x2="573.72" y2="373.70" stroke="#6f6f6f" stroke-width="1"/>
<text x="573.72" y="383.80" font-size="8.7" text-anchor="middle" >9</text>
<line x1="608.84" y1="369.3" x2="608.84" y2="373.70" stroke="#6f6f6f" stroke-width="1"/>
<text x="608.84" y="383.80" font-size="8.7" text-anchor="middle" >10</text>
<line x1="643.96" y1="369.3" x2="643.96" y2="373.70" stroke="#6f6f6f" stroke-width="1"/>
<text x="643.96" y="383.80" font-size="8.7" text-anchor="middle" >11</text>
<line x1="679.08" y1="369.3" x2="679.08" y2="373.70" stroke="#6f6f6f" stroke-width="1"/>
<text x="679.08" y="383.80" font-size="8.7" text-anchor="middle" >12</text>
<text x="609" y="398" font-size="8.7" text-anchor="middle"><tspan font-style="italic">n</tspan> signatures</text>
<text transform="translate(506,297.7) rotate(-90)" font-size="8.7" text-anchor="middle">Normalized mean error</text>
<text x="535.40" y="236.20" font-size="8.7" text-anchor="start" >Error (mean and standard error, <tspan font-style="italic">n</tspan> = 5)</text>
<text x="497" y="232.5" font-size="10" font-weight="bold">c</text>
<line x1="589" y1="252.50" x2="602.6" y2="252.50" stroke="#E5412B" stroke-width="1"/>
<text x="606.70" y="254.85" font-size="6.7" text-anchor="start" >Lee KLD filter</text>
<line x1="589" y1="261.12" x2="602.6" y2="261.12" stroke="#62BD2A" stroke-width="1"/>
<text x="606.70" y="263.47" font-size="6.7" text-anchor="start" >Lee KLD no filter</text>
<line x1="589" y1="269.74" x2="602.6" y2="269.74" stroke="#96D1E8" stroke-width="1"/>
<text x="606.70" y="272.09" font-size="6.7" text-anchor="start" >Lee Frobenius filter</text>
<line x1="589" y1="278.36" x2="602.6" y2="278.36" stroke="#8556C4" stroke-width="1.5"/>
<text x="606.70" y="280.71" font-size="6.7" text-anchor="start" >Lee Frobenius no filter</text>
<line x1="589" y1="286.98" x2="602.6" y2="286.98" stroke="#F4A12E" stroke-width="1"/>
<text x="606.70" y="289.33" font-size="6.7" text-anchor="start" >nsNMF filter</text>
<line x1="589" y1="295.60" x2="602.6" y2="295.60" stroke="#C4C4C4" stroke-width="1"/>
<text x="606.70" y="297.95" font-size="6.7" text-anchor="start" >nsNMF no filter</text>
<text x="115.3" y="429" font-size="10" font-weight="bold">d</text>
<path d="M155.4 424.4 L188.2 457.1 L155.4 489.7 L122.6 457.1 Z" fill="#FDD794"/>
<circle cx="249" cy="534.3" r="47.6" fill="#DAE8F8"/>
<circle cx="373.7" cy="463.5" r="40.0" fill="#DAE8F8"/>
<circle cx="523" cy="535" r="41.6" fill="#DAE8F8"/>
<text x="157.00" y="456.50" font-size="8.75" text-anchor="middle" >3,107 whole genomes</text>
<text x="157.00" y="466.80" font-size="8.75" text-anchor="middle" >from 21 organs</text>
<text x="248.40" y="517.30" font-size="8.75" text-anchor="middle" >Organ-wise</text>
<text x="248.40" y="527.65" font-size="8.75" text-anchor="middle" >mutational signature</text>
<text x="248.40" y="538.00" font-size="8.75" text-anchor="middle" >extraction</text>
<text x="248.40" y="548.35" font-size="8.75" text-anchor="middle" >192 sub. signatures</text>
<text x="248.40" y="558.70" font-size="8.75" text-anchor="middle" >116 rearr. signatures</text>
<text x="375.00" y="455.90" font-size="8.75" text-anchor="middle" >Fit organ-wise</text>
<text x="375.00" y="466.40" font-size="8.75" text-anchor="middle" >signatures</text>
<text x="375.00" y="476.90" font-size="8.75" text-anchor="middle" >to samples</text>
<text x="381.20" y="538.20" font-size="8.7" text-anchor="middle" >Clustering</text>
<text x="522.30" y="517.10" font-size="8.6" text-anchor="middle" >Reference</text>
<text x="522.30" y="527.60" font-size="8.6" text-anchor="middle" >mutational signature</text>
<text x="522.30" y="538.10" font-size="8.6" text-anchor="middle" >38 sub. Ref. signatures</text>
<text x="522.30" y="548.60" font-size="8.6" text-anchor="middle" >20 rearr. Ref. signatures</text>
<text x="518.70" y="441.70" font-size="8.6" text-anchor="middle" >Compare to</text>
<text x="518.70" y="452.80" font-size="8.6" text-anchor="middle" >COSMIC signatures</text>
<path d="M155.4 496.2 V535.2 H185" fill="none" stroke="#000" stroke-width="2.6"/>
<path d="M178.00 531.30 L184.80 535.20 L178.00 539.10" fill="none" stroke="#000" stroke-width="2.7" stroke-linecap="round" stroke-linejoin="miter"/>
<path d="M249 480.5 V464.8 H317" fill="none" stroke="#000" stroke-width="2.6"/>
<path d="M310.30 460.90 L317.10 464.80 L310.30 468.70" fill="none" stroke="#000" stroke-width="2.7" stroke-linecap="round" stroke-linejoin="miter"/>
<path d="M311.4 535.3 H341" fill="none" stroke="#000" stroke-width="2.6"/>
<path d="M334.10 531.40 L340.90 535.30 L334.10 539.20" fill="none" stroke="#000" stroke-width="2.7" stroke-linecap="round" stroke-linejoin="miter"/>
<path d="M420.9 535.3 H451" fill="none" stroke="#000" stroke-width="2.6"/>
<path d="M443.70 531.40 L450.50 535.30 L443.70 539.20" fill="none" stroke="#000" stroke-width="2.7" stroke-linecap="round" stroke-linejoin="miter"/>
<path d="M522.6 488.2 V459" fill="none" stroke="#000" stroke-width="2.6"/>
<path d="M518.70 466.30 L522.60 459.50 L526.50 466.30" fill="none" stroke="#000" stroke-width="2.7" stroke-linecap="round" stroke-linejoin="miter"/>
</svg></body></html>
